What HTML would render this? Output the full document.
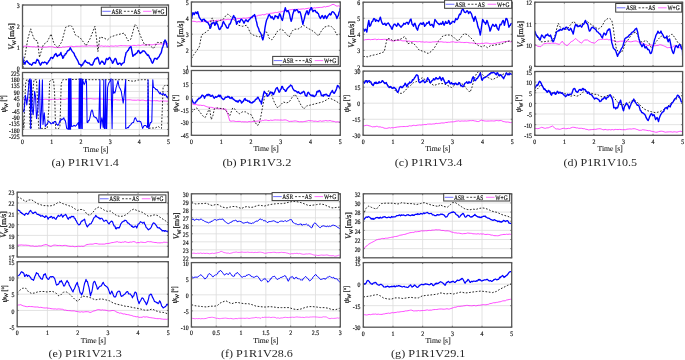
<!DOCTYPE html>
<html><head><meta charset="utf-8"><title>Figure</title>
<style>html,body{margin:0;padding:0;background:#fff;width:685px;height:360px;overflow:hidden}svg{display:block;will-change:transform;text-rendering:geometricPrecision}text{fill:#111;stroke:#111;stroke-width:0.2px}text.xl{stroke-width:0.06px}</style>
</head><body>
<svg width="685" height="360" viewBox="0 0 685 360" font-family='"Liberation Serif", serif' fill="#262626"><defs><clipPath id="cat"><rect x="22.50" y="5.00" width="146.00" height="63.30"/></clipPath><clipPath id="cab"><rect x="22.50" y="72.50" width="146.00" height="63.30"/></clipPath><clipPath id="cbt"><rect x="191.40" y="2.00" width="148.90" height="64.40"/></clipPath><clipPath id="cbb"><rect x="191.40" y="70.50" width="148.90" height="64.80"/></clipPath><clipPath id="cct"><rect x="363.10" y="2.20" width="149.10" height="64.20"/></clipPath><clipPath id="ccb"><rect x="363.10" y="71.10" width="149.10" height="64.20"/></clipPath><clipPath id="cdt"><rect x="534.80" y="2.20" width="147.80" height="64.20"/></clipPath><clipPath id="cdb"><rect x="534.80" y="71.50" width="147.80" height="63.80"/></clipPath><clipPath id="cet"><rect x="17.20" y="192.20" width="151.10" height="64.80"/></clipPath><clipPath id="ceb"><rect x="17.20" y="261.70" width="151.10" height="65.00"/></clipPath><clipPath id="cft"><rect x="191.40" y="193.80" width="148.90" height="64.00"/></clipPath><clipPath id="cfb"><rect x="191.40" y="262.60" width="148.90" height="64.40"/></clipPath><clipPath id="cgt"><rect x="363.30" y="193.80" width="148.40" height="64.00"/></clipPath><clipPath id="cgb"><rect x="363.30" y="262.60" width="148.40" height="64.60"/></clipPath></defs>
<rect x="22.50" y="5.00" width="146.00" height="63.30" fill="#fff"/>
<path d="M51.70,5.00 V68.30 M80.90,5.00 V68.30 M110.10,5.00 V68.30 M139.30,5.00 V68.30 M22.50,47.20 H168.50 M22.50,26.10 H168.50" stroke="#dcdcdc" stroke-width="0.8" fill="none"/>
<text transform="translate(19.70,68.30) scale(0.860,1)" text-anchor="end" font-size="6.80" dy="0.46em">0</text>
<text transform="translate(19.70,47.20) scale(0.860,1)" text-anchor="end" font-size="6.80" dy="0.46em">1</text>
<text transform="translate(19.70,26.10) scale(0.860,1)" text-anchor="end" font-size="6.80" dy="0.46em">2</text>
<text transform="translate(19.70,5.00) scale(0.860,1)" text-anchor="end" font-size="6.80" dy="0.46em">3</text>
<g clip-path="url(#cat)">
<path stroke-width="0.70" d="M22.5,46.1 L23.7,46.3 L25.0,46.1 L26.3,46.2 L27.7,46.3 L29.0,46.5 L30.3,46.6 L31.7,46.7 L33.0,46.9 L34.3,46.7 L35.6,47.1 L36.9,46.9 L38.2,46.9 L39.5,46.9 L40.8,47.2 L42.0,47.3 L43.3,47.3 L44.8,47.0 L46.3,47.1 L47.7,46.9 L49.2,46.7 L50.4,46.7 L51.6,46.8 L52.8,46.8 L54.0,47.3 L55.3,47.6 L56.5,47.6 L57.7,47.4 L58.9,47.7 L60.2,47.4 L61.5,47.5 L62.8,46.9 L64.1,47.1 L65.4,46.9 L66.7,46.7 L68.0,46.7 L69.3,46.4 L70.6,46.3 L71.9,46.2 L73.2,46.7 L74.5,46.6 L75.8,46.3 L77.1,46.3 L78.4,46.3 L79.7,46.3 L81.0,46.2 L82.3,46.0 L83.6,46.2 L84.9,46.0 L86.1,46.2 L87.4,46.1 L88.7,45.8 L90.0,45.9 L91.3,45.9 L92.5,46.0 L93.8,45.9 L95.0,46.1 L96.3,46.0 L97.5,45.9 L98.8,45.9 L100.1,46.2 L101.4,45.8 L102.7,46.1 L104.0,46.3 L105.4,46.0 L106.7,46.3 L108.0,46.0 L109.3,46.5 L110.6,46.0 L111.9,46.0 L113.2,46.2 L114.5,46.1 L115.8,45.8 L117.0,46.2 L118.3,45.9 L119.6,45.7 L120.9,45.6 L122.2,45.7 L123.5,45.7 L124.8,45.7 L126.1,45.8 L127.4,45.8 L128.7,45.8 L130.0,45.7 L131.3,45.9 L132.6,45.4 L133.9,45.4 L135.2,45.4 L136.5,45.7 L137.8,45.1 L139.1,45.2 L140.4,45.5 L141.7,45.1 L143.0,44.8 L144.3,45.2 L145.6,45.2 L146.9,44.9 L148.2,44.7 L149.5,44.5 L150.8,44.8 L152.1,44.9 L153.4,44.6 L154.7,44.3 L156.0,44.2 L157.3,44.1 L158.6,44.3 L159.9,43.9 L161.1,44.0 L162.5,44.0 L163.9,43.8 L165.2,44.0 L166.6,43.7 L168.0,43.6" stroke="#ff00ff" fill="none" stroke-linejoin="round"/>
<path d="M22.9,68.0 L24.9,56.4 L27.8,38.9 L30.7,28.8 L32.6,35.0 L34.6,39.9 L37.5,40.9 L39.5,57.4 L41.4,50.6 L43.3,44.7 L47.2,41.8 L51.1,34.0 L54.0,43.8 L57.9,47.7 L61.8,41.8 L65.7,27.2 L70.6,25.3 L72.5,27.2 L75.4,35.0 L80.3,37.9 L86.1,45.7 L90.0,38.9 L94.9,26.3 L96.6,38.9 L97.9,51.6 L99.9,37.0 L103.8,37.9 L107.6,39.9 L110.6,37.0 L116.4,35.0 L124.2,33.1 L128.1,40.9 L131.0,38.9 L134.9,24.3 L136.8,26.3 L141.7,38.9 L144.6,44.7 L149.5,45.1 L153.4,48.6 L157.3,42.4 L162.1,42.8 L165.0,40.9 L167.4,44.7" stroke="#111" stroke-width="0.9" fill="none" stroke-dasharray="1.7,1.6" stroke-linejoin="round"/>
<path d="M22.5,56.4 L23.5,62.3 L24.2,62.5 L24.9,64.2 L25.5,62.2 L26.2,61.3 L27.0,60.8 L27.8,62.3 L28.4,62.7 L29.1,63.6 L29.7,64.2 L30.4,64.1 L31.0,64.5 L31.7,65.2 L32.3,64.4 L33.0,62.9 L33.6,62.6 L34.3,62.5 L34.9,63.1 L35.6,63.2 L36.3,61.2 L37.1,59.3 L37.8,60.4 L38.5,60.3 L39.1,62.6 L39.8,63.9 L40.4,65.2 L41.1,64.4 L41.7,62.8 L42.4,62.3 L43.1,62.8 L43.8,62.7 L44.6,61.9 L45.3,62.3 L46.1,62.6 L46.8,64.2 L47.5,63.1 L48.2,62.3 L48.9,60.9 L49.6,60.3 L50.4,58.5 L51.1,57.4 L51.9,57.6 L52.7,58.4 L53.4,57.1 L54.0,56.4 L54.7,54.5 L55.3,54.5 L56.0,53.5 L56.8,55.9 L57.5,56.4 L58.2,55.1 L58.9,55.4 L59.6,54.9 L60.2,53.9 L60.9,52.5 L61.5,55.4 L62.2,55.9 L62.8,58.4 L63.5,57.6 L64.1,55.5 L64.7,55.4 L65.4,53.7 L66.0,53.8 L66.7,52.5 L67.3,51.2 L68.0,50.4 L68.6,50.6 L69.4,49.8 L70.2,47.7 L71.0,49.2 L71.8,50.6 L72.5,51.6 L73.3,52.5 L74.1,53.5 L74.8,55.8 L75.4,56.4 L76.2,58.1 L77.0,59.3 L77.7,60.6 L78.4,62.3 L79.1,64.3 L79.8,64.3 L80.6,64.6 L81.3,66.1 L81.9,64.8 L82.6,65.0 L83.2,63.2 L83.9,62.8 L84.5,61.3 L85.2,60.3 L85.9,61.6 L86.5,62.3 L87.3,62.4 L88.1,63.2 L88.7,63.0 L89.4,63.0 L90.0,64.2 L90.7,64.9 L91.3,64.8 L92.0,65.2 L92.8,64.5 L93.5,62.3 L94.2,61.2 L94.9,59.3 L95.6,58.7 L96.4,58.8 L97.1,57.5 L97.8,57.4 L98.5,59.5 L99.2,62.4 L99.9,64.2 L100.5,63.1 L101.2,61.9 L102.0,61.1 L102.8,62.3 L103.4,62.1 L104.1,64.2 L104.7,64.2 L105.4,62.5 L106.0,59.4 L106.7,58.4 L107.5,59.7 L108.2,59.3 L108.9,58.0 L109.6,57.4 L110.4,58.7 L111.1,60.3 L111.8,60.9 L112.5,63.2 L113.3,62.3 L114.1,60.3 L114.7,59.0 L115.4,58.4 L116.1,59.5 L116.8,62.3 L117.6,64.3 L118.3,64.2 L119.1,63.2 L119.9,63.2 L120.6,63.6 L121.3,65.2 L121.9,64.0 L122.6,63.2 L123.4,62.8 L124.2,62.3 L124.8,58.0 L125.5,55.5 L126.1,52.5 L126.9,52.0 L127.7,50.6 L128.4,50.2 L129.0,48.6 L129.7,47.5 L130.3,47.1 L131.0,46.7 L132.0,51.6 L132.9,56.4 L133.7,55.5 L134.5,54.5 L135.2,54.7 L135.9,53.5 L136.6,53.3 L137.4,52.1 L138.1,50.4 L138.8,50.6 L139.5,52.5 L140.1,53.5 L140.9,52.4 L141.7,52.5 L142.5,50.9 L143.2,51.0 L143.9,50.8 L144.6,51.6 L145.3,52.0 L146.0,53.5 L146.8,54.1 L147.5,55.4 L148.3,54.9 L149.1,56.4 L149.8,58.2 L150.4,58.4 L151.4,61.3 L152.4,63.2 L153.1,62.4 L153.8,60.3 L154.5,58.5 L155.3,58.4 L156.1,58.5 L156.9,59.3 L157.5,58.5 L158.2,57.4 L159.2,56.4 L160.0,54.5 L160.8,53.5 L161.4,52.1 L162.1,48.6 L162.8,46.9 L163.5,44.7 L164.3,41.8 L165.0,39.9 L166.2,41.8 L167.4,47.7" stroke="#0000ff" stroke-width="1.40" fill="none" stroke-linejoin="round"/>
</g>
<path d="M22.50,68.30 v-1.40 M22.50,5.00 v1.40 M51.70,68.30 v-1.40 M51.70,5.00 v1.40 M80.90,68.30 v-1.40 M80.90,5.00 v1.40 M110.10,68.30 v-1.40 M110.10,5.00 v1.40 M139.30,68.30 v-1.40 M139.30,5.00 v1.40 M168.50,68.30 v-1.40 M168.50,5.00 v1.40 M22.50,68.30 h1.40 M168.50,68.30 h-1.40 M22.50,47.20 h1.40 M168.50,47.20 h-1.40 M22.50,26.10 h1.40 M168.50,26.10 h-1.40 M22.50,5.00 h1.40 M168.50,5.00 h-1.40" stroke="#262626" stroke-width="0.6" fill="none"/>
<rect x="22.50" y="5.00" width="146.00" height="63.30" fill="none" stroke="#555" stroke-width="1.3"/>
<rect x="101.30" y="7.20" width="65.20" height="8.20" fill="#fff" stroke="#3a3a3a" stroke-width="1.0"/>
<line x1="102.30" y1="11.30" x2="110.80" y2="11.30" stroke="#3030ff" stroke-width="0.70"/>
<text transform="translate(111.40,11.30) scale(0.800,1)" font-size="6.90" dy="0.36em">ASR</text>
<line x1="123.90" y1="11.30" x2="133.20" y2="11.30" stroke="#111" stroke-width="0.80" stroke-dasharray="2.0,1.55"/>
<text transform="translate(133.50,11.30) scale(0.800,1)" font-size="6.90" dy="0.36em">AS</text>
<line x1="143.10" y1="11.30" x2="151.50" y2="11.30" stroke="#ff30ff" stroke-width="0.70"/>
<text transform="translate(152.30,11.30) scale(0.800,1)" font-size="6.90" dy="0.36em">W+G</text>
<rect x="22.50" y="72.50" width="146.00" height="63.30" fill="#fff"/>
<path d="M51.70,72.50 V135.80 M80.90,72.50 V135.80 M110.10,72.50 V135.80 M139.30,72.50 V135.80 M22.50,129.47 H168.50 M22.50,123.14 H168.50 M22.50,116.81 H168.50 M22.50,110.48 H168.50 M22.50,104.15 H168.50 M22.50,97.82 H168.50 M22.50,91.49 H168.50 M22.50,85.16 H168.50 M22.50,78.83 H168.50" stroke="#dcdcdc" stroke-width="0.8" fill="none"/>
<text transform="translate(19.70,135.80) scale(0.860,1)" text-anchor="end" font-size="6.80" dy="0.46em">-225</text>
<text transform="translate(19.70,129.47) scale(0.860,1)" text-anchor="end" font-size="6.80" dy="0.46em">-180</text>
<text transform="translate(19.70,123.14) scale(0.860,1)" text-anchor="end" font-size="6.80" dy="0.46em">-135</text>
<text transform="translate(19.70,116.81) scale(0.860,1)" text-anchor="end" font-size="6.80" dy="0.46em">-90</text>
<text transform="translate(19.70,110.48) scale(0.860,1)" text-anchor="end" font-size="6.80" dy="0.46em">-45</text>
<text transform="translate(19.70,104.15) scale(0.860,1)" text-anchor="end" font-size="6.80" dy="0.46em">0</text>
<text transform="translate(19.70,97.82) scale(0.860,1)" text-anchor="end" font-size="6.80" dy="0.46em">45</text>
<text transform="translate(19.70,91.49) scale(0.860,1)" text-anchor="end" font-size="6.80" dy="0.46em">90</text>
<text transform="translate(19.70,85.16) scale(0.860,1)" text-anchor="end" font-size="6.80" dy="0.46em">135</text>
<text transform="translate(19.70,78.83) scale(0.860,1)" text-anchor="end" font-size="6.80" dy="0.46em">180</text>
<text transform="translate(19.70,72.50) scale(0.860,1)" text-anchor="end" font-size="6.80" dy="0.46em">225</text>
<text transform="translate(22.50,144.10) scale(0.860,1)" text-anchor="middle" font-size="6.80">0</text>
<text transform="translate(51.70,144.10) scale(0.860,1)" text-anchor="middle" font-size="6.80">1</text>
<text transform="translate(80.90,144.10) scale(0.860,1)" text-anchor="middle" font-size="6.80">2</text>
<text transform="translate(110.10,144.10) scale(0.860,1)" text-anchor="middle" font-size="6.80">3</text>
<text transform="translate(139.30,144.10) scale(0.860,1)" text-anchor="middle" font-size="6.80">4</text>
<text transform="translate(168.50,144.10) scale(0.860,1)" text-anchor="middle" font-size="6.80">5</text>
<g clip-path="url(#cab)">
<path stroke-width="0.70" d="M22.5,99.2 L23.6,99.3 L24.8,99.3 L26.0,99.1 L27.2,99.0 L28.4,99.3 L29.7,99.5 L30.9,99.1 L32.1,99.4 L33.3,98.9 L34.6,99.2 L35.8,99.0 L37.0,99.2 L38.2,99.2 L39.5,99.2 L40.8,99.4 L42.0,99.3 L43.3,99.5 L44.6,99.3 L45.9,99.2 L47.2,99.4 L48.5,99.6 L49.8,99.7 L51.1,99.6 L52.4,99.3 L53.7,99.3 L55.0,99.3 L56.3,99.4 L57.6,99.6 L58.9,99.2 L60.2,99.0 L61.5,99.5 L62.8,99.2 L64.1,99.4 L65.4,99.3 L66.7,98.8 L68.0,98.9 L69.3,98.8 L70.6,99.2 L71.9,98.7 L73.2,98.7 L74.5,98.7 L75.8,99.0 L77.1,98.6 L78.4,98.8 L79.6,99.1 L80.8,98.7 L82.0,98.9 L83.2,98.7 L84.4,98.7 L85.6,99.1 L86.8,99.2 L88.0,98.7 L89.2,98.8 L90.4,98.6 L91.6,98.7 L92.8,98.9 L94.0,99.0 L95.2,99.0 L96.4,98.9 L97.6,98.8 L98.8,99.0 L100.0,99.1 L101.2,99.0 L102.4,99.1 L103.6,99.5 L104.8,99.3 L106.0,99.1 L107.2,99.7 L108.4,99.7 L109.6,99.5 L110.8,99.9 L112.0,99.4 L113.3,100.0 L114.5,99.8 L115.7,99.6 L116.9,100.0 L118.1,99.9 L119.3,100.1 L120.5,99.8 L121.8,100.0 L123.0,100.2 L124.2,99.7 L125.4,99.8 L126.6,100.0 L127.8,99.8 L129.0,99.8 L130.3,99.8 L131.5,100.0 L132.7,100.2 L133.9,100.2 L135.1,100.2 L136.3,100.3 L137.6,100.0 L138.8,100.1 L140.0,100.4 L141.2,100.2 L142.4,100.1 L143.6,100.2 L144.9,100.6 L146.1,100.8 L147.3,100.6 L148.5,100.3 L149.7,100.4 L150.9,100.8 L152.1,100.9 L153.4,100.7 L154.6,100.6 L155.8,100.8 L157.0,100.6 L158.2,100.9 L159.4,101.1 L160.7,100.9 L161.9,101.1 L163.1,100.8 L164.3,101.1 L165.5,101.0 L166.7,101.2 L168.0,101.1" stroke="#ff00ff" fill="none" stroke-linejoin="round"/>
<path d="M22.7,116.7 L23.9,128.4 L24.9,97.2 L25.8,81.7 L26.8,79.7 L28.2,79.7 L29.1,93.3 L30.1,128.4 L31.3,128.4 L32.6,93.3 L34.0,79.7 L35.2,79.7 L36.5,79.7 L37.5,101.1 L38.7,128.4 L41.4,128.4 L43.3,128.4 L44.9,128.4 L47.2,128.4 L48.8,108.9 L49.6,81.7 L51.1,79.7 L53.5,79.7 L54.6,93.3 L55.6,128.4 L58.9,128.4 L59.9,126.4 L60.5,108.9 L61.2,83.6 L62.8,79.7 L67.7,79.7 L78.4,79.3 L90.0,79.7 L98.8,79.7 L110.6,79.7 L126.1,79.7 L129.0,80.7 L133.9,81.3 L137.8,80.1 L141.7,79.7 L147.9,79.7 L148.5,128.4 L151.4,128.0 L155.3,128.0 L158.2,126.4 L160.2,128.0 L161.5,128.4 L162.3,108.9 L163.1,87.5 L165.0,85.2 L168.0,85.6" stroke="#111" stroke-width="0.9" fill="none" stroke-dasharray="1.7,1.6" stroke-linejoin="round"/>
<path d="M22.5,108.9 L23.1,110.6 L23.9,111.8 L24.7,102.6 L25.4,95.3 L26.1,99.5 L26.8,105.0 L27.5,98.6 L28.2,91.4 L29.3,79.7 L30.1,78.8 L30.7,128.4 L31.3,79.7 L32.1,108.9 L33.2,114.7 L33.9,103.8 L34.6,91.4 L35.6,97.2 L36.5,118.6 L37.2,113.6 L37.9,108.9 L38.7,94.6 L39.5,79.7 L40.4,128.4 L41.4,110.9 L42.4,79.7 L43.0,124.5 L43.6,119.1 L44.3,112.8 L45.3,126.4 L46.0,125.5 L46.8,124.4 L47.5,123.5 L48.2,121.6 L48.9,121.3 L49.5,122.3 L50.2,122.5 L50.8,123.8 L51.5,123.8 L52.1,123.5 L52.8,122.3 L53.6,123.4 L54.3,121.5 L55.0,121.6 L55.7,121.7 L56.5,124.4 L57.2,124.5 L57.9,125.4 L58.6,124.7 L59.2,122.8 L59.9,120.6 L60.5,121.1 L61.2,119.0 L61.8,119.6 L62.5,119.3 L63.1,118.7 L63.8,117.7 L64.4,120.0 L65.1,120.1 L65.7,122.5 L66.7,128.4 L67.5,128.9 L68.2,129.3 L68.6,78.8 L69.0,129.3 L69.4,78.8 L69.8,129.3 L70.2,78.8 L70.6,129.3 L71.0,78.8 L71.4,126.4 L72.0,126.0 L72.6,126.4 L73.2,126.1 L73.9,125.3 L74.5,125.4 L75.1,126.2 L75.8,125.7 L76.4,125.4 L77.1,124.3 L77.7,123.7 L78.4,122.5 L78.9,128.4 L79.3,78.8 L79.9,128.4 L80.5,78.8 L81.1,128.4 L81.7,78.8 L82.3,128.4 L82.6,79.7 L83.4,82.3 L84.2,84.6 L85.0,83.1 L85.8,79.7 L86.5,81.7 L87.1,122.5 L87.8,122.6 L88.4,120.6 L89.1,120.6 L89.7,118.7 L90.4,115.3 L91.0,111.8 L92.0,109.9 L92.6,111.2 L93.3,114.7 L93.9,116.7 L94.7,116.8 L95.4,117.6 L96.1,117.6 L96.8,118.6 L97.5,120.5 L98.1,122.1 L98.8,122.5 L99.9,79.7 L100.4,128.4 L101.1,123.3 L101.8,117.7 L102.5,121.6 L103.2,127.4 L103.8,79.7 L104.3,128.4 L105.1,128.4 L105.7,79.7 L106.3,128.4 L106.7,128.4 L107.6,87.5 L108.3,84.6 L108.9,82.9 L109.6,81.7 L110.3,80.4 L111.0,78.8 L112.1,128.4 L112.9,79.7 L113.5,93.3 L114.1,91.7 L114.8,93.0 L115.4,91.4 L116.1,87.6 L116.8,85.6 L118.0,80.7 L118.6,84.4 L119.3,87.5 L120.0,88.3 L120.6,89.7 L121.3,91.4 L121.9,95.4 L122.6,99.1 L123.2,103.1 L123.9,97.8 L124.6,91.4 L125.7,79.7 L125.7,128.4 L126.4,128.2 L127.1,127.9 L127.7,127.5 L128.4,127.7 L129.0,126.4 L129.7,125.7 L130.3,125.2 L131.0,124.5 L131.6,123.3 L132.3,122.9 L132.9,122.5 L133.6,122.4 L134.2,119.9 L134.8,118.1 L135.5,117.7 L136.2,119.5 L137.0,121.0 L137.8,121.6 L138.5,121.2 L139.3,121.0 L140.0,121.8 L140.7,121.6 L141.4,123.7 L142.0,126.4 L142.7,128.4 L143.3,127.0 L144.0,125.9 L144.6,125.4 L145.3,125.4 L146.1,125.8 L146.8,127.2 L147.5,127.4 L148.1,79.7 L148.7,128.4 L149.6,125.3 L150.4,122.5 L151.1,122.4 L151.8,121.6 L152.8,79.7 L153.4,87.5 L154.0,87.2 L154.7,88.1 L155.3,88.5 L156.0,89.8 L156.8,89.4 L157.5,90.2 L158.2,91.4 L159.0,92.6 L159.7,93.7 L160.4,92.6 L161.1,94.3 L161.8,94.2 L162.4,94.7 L163.1,93.3 L163.8,94.0 L164.6,95.4 L165.3,94.3 L166.0,95.3 L166.7,97.1 L167.3,96.6 L168.0,98.2" stroke="#0000ff" stroke-width="1.05" fill="none" stroke-linejoin="round"/>
</g>
<path d="M22.50,135.80 v-1.40 M22.50,72.50 v1.40 M51.70,135.80 v-1.40 M51.70,72.50 v1.40 M80.90,135.80 v-1.40 M80.90,72.50 v1.40 M110.10,135.80 v-1.40 M110.10,72.50 v1.40 M139.30,135.80 v-1.40 M139.30,72.50 v1.40 M168.50,135.80 v-1.40 M168.50,72.50 v1.40 M22.50,135.80 h1.40 M168.50,135.80 h-1.40 M22.50,129.47 h1.40 M168.50,129.47 h-1.40 M22.50,123.14 h1.40 M168.50,123.14 h-1.40 M22.50,116.81 h1.40 M168.50,116.81 h-1.40 M22.50,110.48 h1.40 M168.50,110.48 h-1.40 M22.50,104.15 h1.40 M168.50,104.15 h-1.40 M22.50,97.82 h1.40 M168.50,97.82 h-1.40 M22.50,91.49 h1.40 M168.50,91.49 h-1.40 M22.50,85.16 h1.40 M168.50,85.16 h-1.40 M22.50,78.83 h1.40 M168.50,78.83 h-1.40 M22.50,72.50 h1.40 M168.50,72.50 h-1.40" stroke="#262626" stroke-width="0.6" fill="none"/>
<rect x="22.50" y="72.50" width="146.00" height="63.30" fill="none" stroke="#555" stroke-width="1.3"/>
<g transform="translate(11.80,36.50) rotate(-90)">
<text x="-13.30" y="2.13" font-size="8.36" font-style="italic">V</text>
<text x="-8.70" y="3.83" font-size="5.41">W</text>
<text x="-2.70" y="2.13" font-size="8.20" textLength="16.00" lengthAdjust="spacingAndGlyphs">[m/s]</text>
</g>
<g transform="translate(3.80,103.90) rotate(-90)">
<text x="-8.60" y="2.08" font-size="8.00" font-style="italic">ψ</text>
<text x="-4.00" y="3.78" font-size="5.28">W</text>
<text x="2.40" y="2.08" font-size="8.00" textLength="6.20" lengthAdjust="spacingAndGlyphs">[°]</text>
</g>
<text class="xl" x="83.20" y="151.70" font-size="7.60" textLength="16.0" lengthAdjust="spacingAndGlyphs">Time</text>
<text class="xl" x="100.70" y="151.70" font-size="8.4">[</text>
<text class="xl" x="102.90" y="151.70" font-size="7.60">s</text>
<text class="xl" x="105.70" y="151.70" font-size="8.4">]</text>
<text style="fill:#262626;stroke:none;text-rendering:optimizeLegibility" x="51.40" y="163.00" font-size="10.60" dy="0.33em" textLength="67.50" lengthAdjust="spacingAndGlyphs">(a) P1R1V1.4</text>
<rect x="191.40" y="2.00" width="148.90" height="64.40" fill="#fff"/>
<path d="M221.18,2.00 V66.40 M250.96,2.00 V66.40 M280.74,2.00 V66.40 M310.52,2.00 V66.40 M191.40,50.30 H340.30 M191.40,34.20 H340.30 M191.40,18.10 H340.30" stroke="#dcdcdc" stroke-width="0.8" fill="none"/>
<text transform="translate(188.60,66.40) scale(0.860,1)" text-anchor="end" font-size="6.80" dy="0.46em">1</text>
<text transform="translate(188.60,50.30) scale(0.860,1)" text-anchor="end" font-size="6.80" dy="0.46em">2</text>
<text transform="translate(188.60,34.20) scale(0.860,1)" text-anchor="end" font-size="6.80" dy="0.46em">3</text>
<text transform="translate(188.60,18.10) scale(0.860,1)" text-anchor="end" font-size="6.80" dy="0.46em">4</text>
<text transform="translate(188.60,2.00) scale(0.860,1)" text-anchor="end" font-size="6.80" dy="0.46em">5</text>
<g clip-path="url(#cbt)">
<path stroke-width="0.70" d="M191.5,21.4 L192.7,21.3 L194.0,21.3 L195.2,21.5 L196.5,21.9 L197.7,21.8 L198.9,21.6 L200.2,21.9 L201.4,21.6 L202.6,21.6 L203.8,21.7 L205.0,21.2 L206.2,21.7 L207.5,21.4 L208.7,21.4 L209.9,21.0 L211.1,20.8 L212.3,20.9 L213.5,21.0 L214.8,20.9 L216.0,20.3 L217.2,20.4 L218.4,20.2 L219.6,20.4 L220.8,19.9 L222.0,20.1 L223.3,19.9 L224.5,19.8 L225.7,19.7 L226.9,19.5 L228.1,19.1 L229.3,19.6 L230.6,19.4 L231.8,19.4 L233.0,19.2 L234.2,19.3 L235.4,19.0 L236.6,18.9 L237.9,18.5 L239.1,18.6 L240.3,18.4 L241.5,18.8 L242.7,18.2 L243.9,18.0 L245.1,18.4 L246.4,18.1 L247.7,18.0 L249.0,17.6 L250.3,17.2 L251.6,16.9 L252.9,16.8 L254.1,16.5 L255.6,16.4 L257.1,16.0 L258.5,15.3 L260.0,15.2 L261.3,15.0 L262.6,14.5 L263.9,14.9 L265.2,14.5 L266.5,13.9 L267.8,14.0 L269.1,14.0 L270.4,13.3 L271.7,13.2 L272.9,13.1 L274.2,12.8 L275.4,12.4 L276.6,12.5 L277.8,12.4 L279.0,11.9 L280.2,12.1 L281.5,11.7 L282.7,11.4 L283.9,10.9 L285.1,10.7 L286.3,10.4 L287.5,10.7 L288.8,10.1 L290.0,9.8 L291.2,9.7 L292.4,9.4 L293.6,9.6 L294.8,9.3 L296.0,9.4 L297.3,9.3 L298.5,9.1 L299.7,9.3 L300.9,9.1 L302.1,9.0 L303.3,8.8 L304.6,9.1 L305.8,8.6 L307.0,8.6 L308.2,8.2 L309.4,8.2 L310.6,8.2 L311.9,8.3 L313.1,8.3 L314.3,7.7 L315.5,8.0 L316.7,7.6 L317.9,7.7 L319.1,7.5 L320.4,7.4 L321.7,7.4 L323.0,7.1 L324.3,6.6 L325.6,7.0 L326.9,6.4 L328.1,6.4 L329.4,6.0 L330.6,5.4 L331.8,4.8 L333.0,4.3 L334.5,4.8 L335.9,5.8 L337.1,6.2 L338.4,5.8 L339.6,6.2 L340.3,6.2" stroke="#ff00ff" fill="none" stroke-linejoin="round"/>
<path d="M191.5,58.4 L193.8,54.5 L196.8,50.6 L199.3,46.7 L201.6,35.0 L204.5,33.1 L207.5,31.1 L209.4,29.2 L211.0,20.4 L212.3,17.9 L214.3,23.3 L216.2,22.4 L218.2,21.4 L220.1,20.4 L223.0,19.5 L225.9,15.6 L227.9,14.0 L229.8,15.6 L232.7,18.5 L235.7,21.4 L238.6,25.3 L242.5,26.3 L246.4,25.3 L248.3,28.2 L250.3,33.1 L253.2,35.0 L256.1,36.0 L259.0,37.0 L262.9,35.0 L265.8,31.1 L267.8,34.0 L268.8,37.9 L271.7,39.9 L274.6,36.0 L277.6,31.1 L280.5,29.2 L283.0,30.2 L286.3,34.0 L289.2,37.0 L292.2,31.1 L294.1,29.2 L298.0,29.2 L300.9,27.2 L303.8,25.3 L307.7,28.2 L311.6,30.2 L315.5,33.1 L318.4,36.0 L321.3,31.1 L324.3,27.2 L328.1,25.9 L331.1,26.3 L334.0,29.2 L336.9,35.0 L338.8,34.0" stroke="#111" stroke-width="0.9" fill="none" stroke-dasharray="1.7,1.6" stroke-linejoin="round"/>
<path d="M191.5,18.5 L192.2,15.6 L192.9,12.6 L193.5,13.3 L194.2,14.6 L195.4,12.1 L196.1,12.4 L196.8,13.6 L197.7,11.7 L198.5,14.7 L199.3,17.5 L200.0,18.4 L200.6,19.5 L201.3,19.8 L202.0,21.4 L202.8,19.5 L203.6,19.5 L204.2,19.2 L204.9,21.0 L205.5,20.4 L206.2,22.0 L206.8,22.1 L207.5,22.4 L208.1,22.9 L208.8,24.4 L209.4,25.3 L210.4,28.2 L211.1,26.4 L211.7,23.3 L212.5,23.5 L213.3,22.4 L214.1,22.9 L214.8,25.3 L215.5,24.4 L216.2,21.4 L216.9,23.5 L217.6,24.3 L218.4,27.0 L219.1,29.2 L219.9,29.5 L220.7,28.2 L221.4,26.3 L222.0,26.3 L222.7,23.1 L223.4,21.4 L224.2,23.2 L225.0,24.3 L225.7,25.4 L226.5,27.2 L227.2,28.0 L227.9,28.2 L228.6,26.7 L229.2,24.3 L230.0,24.1 L230.8,22.4 L231.6,19.8 L232.4,18.5 L233.0,16.9 L233.7,15.6 L234.4,17.5 L235.1,17.5 L235.9,20.8 L236.6,24.3 L237.4,21.8 L238.2,21.4 L238.9,21.0 L239.6,22.4 L240.2,20.9 L240.9,19.5 L241.7,19.3 L242.5,20.4 L243.3,21.7 L244.0,23.3 L244.7,21.8 L245.4,20.4 L246.0,19.8 L246.7,20.3 L247.3,21.4 L248.0,21.7 L248.6,20.4 L249.3,19.5 L249.9,19.0 L250.6,18.0 L251.2,17.5 L251.9,17.6 L252.5,16.4 L253.2,15.6 L253.9,15.9 L254.5,14.6 L255.3,16.6 L256.1,20.4 L256.7,22.4 L257.4,26.0 L258.0,27.2 L258.7,28.7 L259.3,31.3 L260.0,32.1 L260.8,33.5 L261.5,35.0 L262.2,38.3 L262.9,39.9 L263.6,36.9 L264.3,33.1 L265.0,27.6 L265.8,23.3 L266.6,20.0 L267.4,18.5 L267.8,17.5 L268.6,15.3 L269.4,14.6 L270.1,15.8 L270.8,17.5 L271.4,17.8 L272.1,16.5 L272.9,18.1 L273.7,19.5 L274.5,17.6 L275.2,15.6 L275.9,16.7 L276.6,16.5 L277.3,16.5 L278.0,18.5 L278.7,16.7 L279.5,13.6 L280.3,14.8 L281.1,17.5 L281.7,19.4 L282.4,20.4 L283.1,17.4 L283.8,13.6 L284.6,10.4 L285.3,7.8 L286.1,10.6 L286.9,11.7 L287.6,10.8 L288.3,10.7 L288.9,12.6 L289.6,14.6 L290.4,18.6 L291.2,21.4 L292.0,18.8 L292.7,14.6 L293.4,12.6 L294.1,9.7 L294.8,10.8 L295.5,10.7 L296.2,9.6 L297.0,9.7 L297.8,10.9 L298.6,12.6 L299.3,11.8 L299.9,11.7 L300.6,13.6 L301.3,16.5 L302.1,20.7 L302.9,24.3 L303.6,21.1 L304.4,18.5 L305.1,15.1 L305.8,13.6 L306.5,11.4 L307.1,10.7 L308.3,14.6 L309.0,13.0 L309.7,9.7 L310.3,10.0 L311.0,7.8 L311.6,7.8 L312.3,10.3 L313.0,11.7 L313.8,10.5 L314.5,10.7 L315.2,10.4 L315.8,11.8 L316.5,12.6 L317.1,12.2 L317.8,13.4 L318.4,13.6 L319.1,16.1 L319.7,17.1 L320.4,18.5 L321.0,17.5 L321.7,16.1 L322.3,15.6 L323.1,17.3 L323.9,18.5 L324.5,16.7 L325.2,15.6 L325.9,16.9 L326.6,18.5 L327.4,16.9 L328.1,15.6 L328.9,14.6 L329.7,13.6 L330.4,15.0 L331.1,14.6 L331.7,12.2 L332.4,11.7 L333.2,12.0 L334.0,12.6 L334.8,13.9 L335.5,14.6 L336.2,16.2 L336.9,18.5 L337.6,16.5 L338.3,15.6 L339.0,12.6 L339.8,10.7 L340.3,7.8" stroke="#0000ff" stroke-width="1.40" fill="none" stroke-linejoin="round"/>
</g>
<path d="M191.40,66.40 v-1.40 M191.40,2.00 v1.40 M221.18,66.40 v-1.40 M221.18,2.00 v1.40 M250.96,66.40 v-1.40 M250.96,2.00 v1.40 M280.74,66.40 v-1.40 M280.74,2.00 v1.40 M310.52,66.40 v-1.40 M310.52,2.00 v1.40 M340.30,66.40 v-1.40 M340.30,2.00 v1.40 M191.40,66.40 h1.40 M340.30,66.40 h-1.40 M191.40,50.30 h1.40 M340.30,50.30 h-1.40 M191.40,34.20 h1.40 M340.30,34.20 h-1.40 M191.40,18.10 h1.40 M340.30,18.10 h-1.40 M191.40,2.00 h1.40 M340.30,2.00 h-1.40" stroke="#262626" stroke-width="0.6" fill="none"/>
<rect x="191.40" y="2.00" width="148.90" height="64.40" fill="none" stroke="#555" stroke-width="1.3"/>
<rect x="272.70" y="56.40" width="65.60" height="8.40" fill="#fff" stroke="#3a3a3a" stroke-width="1.0"/>
<line x1="273.71" y1="60.60" x2="282.26" y2="60.60" stroke="#3030ff" stroke-width="0.70"/>
<text transform="translate(282.86,60.60) scale(0.800,1)" font-size="6.90" dy="0.36em">ASR</text>
<line x1="295.44" y1="60.60" x2="304.80" y2="60.60" stroke="#111" stroke-width="0.80" stroke-dasharray="2.0,1.55"/>
<text transform="translate(305.10,60.60) scale(0.800,1)" font-size="6.90" dy="0.36em">AS</text>
<line x1="314.76" y1="60.60" x2="323.21" y2="60.60" stroke="#ff30ff" stroke-width="0.70"/>
<text transform="translate(324.01,60.60) scale(0.800,1)" font-size="6.90" dy="0.36em">W+G</text>
<rect x="191.40" y="70.50" width="148.90" height="64.80" fill="#fff"/>
<path d="M221.18,70.50 V135.30 M250.96,70.50 V135.30 M280.74,70.50 V135.30 M310.52,70.50 V135.30 M191.40,122.34 H340.30 M191.40,109.38 H340.30 M191.40,96.42 H340.30 M191.40,83.46 H340.30" stroke="#dcdcdc" stroke-width="0.8" fill="none"/>
<text transform="translate(188.60,135.30) scale(0.860,1)" text-anchor="end" font-size="6.80" dy="0.46em">-45</text>
<text transform="translate(188.60,122.34) scale(0.860,1)" text-anchor="end" font-size="6.80" dy="0.46em">-30</text>
<text transform="translate(188.60,109.38) scale(0.860,1)" text-anchor="end" font-size="6.80" dy="0.46em">-15</text>
<text transform="translate(188.60,96.42) scale(0.860,1)" text-anchor="end" font-size="6.80" dy="0.46em">0</text>
<text transform="translate(188.60,83.46) scale(0.860,1)" text-anchor="end" font-size="6.80" dy="0.46em">15</text>
<text transform="translate(188.60,70.50) scale(0.860,1)" text-anchor="end" font-size="6.80" dy="0.46em">30</text>
<text transform="translate(191.40,143.60) scale(0.860,1)" text-anchor="middle" font-size="6.80">0</text>
<text transform="translate(221.18,143.60) scale(0.860,1)" text-anchor="middle" font-size="6.80">1</text>
<text transform="translate(250.96,143.60) scale(0.860,1)" text-anchor="middle" font-size="6.80">2</text>
<text transform="translate(280.74,143.60) scale(0.860,1)" text-anchor="middle" font-size="6.80">3</text>
<text transform="translate(310.52,143.60) scale(0.860,1)" text-anchor="middle" font-size="6.80">4</text>
<text transform="translate(340.30,143.60) scale(0.860,1)" text-anchor="middle" font-size="6.80">5</text>
<g clip-path="url(#cbb)">
<path stroke-width="0.70" d="M191.5,104.0 L192.7,103.9 L194.0,104.6 L195.2,104.6 L196.5,104.6 L197.7,105.0 L199.2,105.2 L200.6,105.2 L202.1,105.5 L203.6,105.4 L204.9,105.9 L206.2,106.5 L207.5,106.9 L208.9,107.3 L210.4,107.3 L211.8,107.4 L213.3,107.9 L214.6,108.3 L215.9,108.0 L217.2,108.4 L218.5,108.8 L219.8,108.6 L221.1,108.9 L222.3,108.8 L223.5,109.0 L224.7,109.0 L225.9,109.2 L227.9,114.7 L229.8,120.9 L231.2,121.2 L232.6,121.0 L233.9,121.0 L235.3,121.4 L236.6,121.5 L237.9,121.4 L239.1,121.4 L240.3,121.4 L241.5,121.9 L242.7,121.7 L243.9,121.9 L245.1,121.8 L246.4,121.9 L247.7,122.0 L249.0,121.5 L250.3,121.8 L251.6,121.8 L252.9,121.4 L254.1,121.5 L255.6,121.3 L257.1,121.1 L258.5,121.0 L260.0,120.9 L261.2,121.0 L262.4,120.4 L263.6,120.5 L264.8,120.1 L266.3,120.1 L267.8,120.5 L269.2,120.6 L270.7,120.1 L272.2,120.4 L273.7,120.1 L275.1,119.9 L276.6,120.0 L278.1,120.0 L279.5,120.1 L281.0,120.0 L282.4,120.2 L283.9,120.0 L285.3,119.9 L286.6,120.2 L287.9,120.8 L289.2,121.5 L290.7,121.3 L292.2,121.3 L293.6,121.1 L295.1,120.9 L296.5,121.1 L298.0,121.5 L299.5,121.8 L300.9,121.7 L302.2,121.8 L303.5,121.6 L304.8,121.4 L306.1,121.2 L307.4,120.9 L308.7,120.5 L310.0,120.8 L311.3,120.8 L312.6,120.9 L313.9,121.3 L315.2,121.1 L316.5,121.3 L317.8,121.5 L319.1,121.1 L320.4,120.8 L321.7,121.3 L323.0,121.0 L324.3,120.9 L325.7,120.5 L327.2,120.9 L328.6,120.8 L330.1,120.5 L331.6,121.1 L333.0,121.3 L334.5,121.5 L335.9,122.1 L337.1,121.8 L338.4,121.9 L339.6,121.9 L340.3,121.7" stroke="#ff00ff" fill="none" stroke-linejoin="round"/>
<path d="M191.5,112.7 L193.8,109.8 L196.8,107.9 L199.7,111.8 L202.6,115.7 L205.1,117.6 L207.5,112.7 L209.4,107.9 L211.3,119.6 L212.9,115.7 L214.3,108.9 L217.2,107.9 L221.1,108.5 L224.0,108.9 L226.9,111.8 L229.8,115.7 L232.7,107.9 L234.7,108.9 L237.6,112.7 L239.6,113.7 L242.5,111.8 L245.4,111.8 L248.3,113.7 L251.2,114.7 L254.1,120.5 L257.1,125.4 L259.0,124.4 L261.0,115.7 L262.9,105.0 L264.8,96.2 L266.8,94.3 L268.8,90.4 L271.7,95.2 L274.6,103.0 L277.6,107.9 L280.5,105.0 L283.4,102.0 L286.3,103.0 L289.2,102.0 L292.2,97.2 L295.1,94.3 L298.0,99.1 L300.9,105.0 L303.8,108.9 L306.7,105.9 L310.6,105.0 L314.5,104.0 L318.4,103.0 L322.3,102.0 L326.2,100.1 L329.1,98.2 L332.0,99.1 L335.9,101.1 L340.3,104.0" stroke="#111" stroke-width="0.9" fill="none" stroke-dasharray="1.7,1.6" stroke-linejoin="round"/>
<path d="M191.5,98.2 L192.2,100.4 L192.9,102.0 L193.5,102.8 L194.2,103.1 L194.8,103.0 L195.5,103.0 L196.1,101.1 L196.8,101.1 L197.4,99.9 L198.1,99.4 L198.7,98.2 L199.3,98.5 L200.0,98.2 L200.6,97.2 L201.3,97.0 L201.9,95.2 L202.6,95.2 L203.2,95.7 L203.9,96.4 L204.5,98.2 L205.2,96.4 L205.8,95.8 L206.5,95.2 L207.1,94.4 L207.8,95.4 L208.4,94.3 L209.1,95.1 L209.7,94.6 L210.4,96.2 L211.0,96.4 L211.7,95.7 L212.3,95.2 L213.0,96.2 L213.6,97.4 L214.3,98.2 L214.9,97.4 L215.6,96.6 L216.2,97.2 L216.9,97.1 L217.5,96.3 L218.2,96.2 L218.8,95.1 L219.5,96.6 L220.1,95.2 L220.7,95.8 L221.4,97.8 L222.0,98.2 L222.7,98.8 L223.3,99.6 L224.0,99.1 L224.6,98.6 L225.3,97.2 L225.9,97.2 L226.6,97.2 L227.2,97.1 L227.9,96.2 L228.5,97.1 L229.2,96.8 L229.8,98.2 L230.5,98.0 L231.1,98.5 L231.8,97.2 L232.4,97.8 L233.1,99.2 L233.7,99.1 L234.4,100.1 L235.0,100.3 L235.7,101.1 L236.3,101.5 L237.0,100.8 L237.6,102.0 L238.3,102.0 L238.9,100.5 L239.6,100.1 L240.2,100.7 L240.9,101.1 L241.5,103.0 L242.2,102.4 L242.8,101.6 L243.4,101.1 L244.4,99.1 L245.1,98.5 L245.7,100.2 L246.4,100.1 L247.0,100.2 L247.7,101.2 L248.3,101.1 L249.0,100.8 L249.6,102.3 L250.3,102.0 L250.9,102.9 L251.6,102.8 L252.2,103.0 L252.9,101.8 L253.5,102.1 L254.1,101.1 L254.8,101.1 L255.4,99.6 L256.1,99.1 L256.7,99.1 L257.4,97.6 L258.0,97.2 L258.7,98.5 L259.3,99.5 L260.0,101.1 L260.8,101.5 L261.5,104.0 L262.2,99.7 L262.9,97.2 L263.6,93.7 L264.3,91.3 L265.0,92.6 L265.8,93.3 L266.5,93.7 L267.1,96.1 L267.8,96.2 L268.4,95.1 L269.1,94.8 L269.8,93.3 L270.4,92.0 L271.1,92.9 L271.7,92.3 L272.4,92.5 L273.0,94.5 L273.7,94.3 L274.3,92.6 L275.0,91.4 L275.6,89.4 L276.4,88.2 L277.2,87.5 L277.8,89.0 L278.5,90.7 L279.1,92.3 L279.8,91.6 L280.5,89.4 L281.1,89.1 L281.8,86.4 L282.4,86.5 L283.1,88.3 L283.8,89.4 L284.6,89.6 L285.3,91.3 L286.0,91.3 L286.6,90.0 L287.3,88.4 L287.9,87.8 L288.6,87.4 L289.2,86.5 L289.9,86.2 L290.5,85.0 L291.2,85.5 L292.0,86.1 L292.7,88.4 L293.4,89.4 L294.1,90.4 L294.7,90.9 L295.4,90.8 L296.0,91.3 L296.7,91.4 L297.3,92.8 L298.0,92.3 L298.6,91.7 L299.3,93.3 L299.9,93.3 L300.6,93.8 L301.2,93.3 L301.9,92.3 L302.5,92.7 L303.2,91.7 L303.8,91.3 L304.5,92.4 L305.2,95.2 L306.0,95.9 L306.7,96.2 L307.5,93.3 L308.3,92.3 L309.0,93.0 L309.7,94.3 L310.3,94.8 L311.0,95.6 L311.6,95.2 L312.3,96.0 L312.9,95.0 L313.6,96.2 L314.2,96.6 L314.9,96.1 L315.5,95.2 L316.2,94.8 L316.8,91.8 L317.4,91.3 L318.1,91.9 L318.7,91.0 L319.4,90.4 L320.0,91.4 L320.7,92.9 L321.3,95.2 L322.0,95.8 L322.6,95.2 L323.3,96.2 L323.9,94.6 L324.6,95.1 L325.2,94.3 L325.9,94.8 L326.5,94.2 L327.2,95.2 L327.8,95.9 L328.5,95.6 L329.1,96.2 L329.8,95.2 L330.4,93.5 L331.1,92.3 L331.7,91.9 L332.4,90.4 L333.1,92.3 L333.7,93.0 L334.4,93.3 L335.2,91.6 L335.9,90.4 L336.7,88.3 L337.5,85.5 L338.2,85.9 L338.8,86.5 L339.5,88.0 L340.1,88.1 L340.3,89.4" stroke="#0000ff" stroke-width="1.40" fill="none" stroke-linejoin="round"/>
</g>
<path d="M191.40,135.30 v-1.40 M191.40,70.50 v1.40 M221.18,135.30 v-1.40 M221.18,70.50 v1.40 M250.96,135.30 v-1.40 M250.96,70.50 v1.40 M280.74,135.30 v-1.40 M280.74,70.50 v1.40 M310.52,135.30 v-1.40 M310.52,70.50 v1.40 M340.30,135.30 v-1.40 M340.30,70.50 v1.40 M191.40,135.30 h1.40 M340.30,135.30 h-1.40 M191.40,122.34 h1.40 M340.30,122.34 h-1.40 M191.40,109.38 h1.40 M340.30,109.38 h-1.40 M191.40,96.42 h1.40 M340.30,96.42 h-1.40 M191.40,83.46 h1.40 M340.30,83.46 h-1.40 M191.40,70.50 h1.40 M340.30,70.50 h-1.40" stroke="#262626" stroke-width="0.6" fill="none"/>
<rect x="191.40" y="70.50" width="148.90" height="64.80" fill="none" stroke="#555" stroke-width="1.3"/>
<g transform="translate(181.00,34.30) rotate(-90)">
<text x="-13.30" y="2.13" font-size="8.36" font-style="italic">V</text>
<text x="-8.70" y="3.83" font-size="5.41">W</text>
<text x="-2.70" y="2.13" font-size="8.20" textLength="16.00" lengthAdjust="spacingAndGlyphs">[m/s]</text>
</g>
<g transform="translate(175.50,103.30) rotate(-90)">
<text x="-8.60" y="2.08" font-size="8.00" font-style="italic">ψ</text>
<text x="-4.00" y="3.78" font-size="5.28">W</text>
<text x="2.40" y="2.08" font-size="8.00" textLength="6.20" lengthAdjust="spacingAndGlyphs">[°]</text>
</g>
<text class="xl" x="253.40" y="151.10" font-size="7.60" textLength="16.0" lengthAdjust="spacingAndGlyphs">Time</text>
<text class="xl" x="270.90" y="151.10" font-size="8.4">[</text>
<text class="xl" x="273.10" y="151.10" font-size="7.60">s</text>
<text class="xl" x="275.90" y="151.10" font-size="8.4">]</text>
<text style="fill:#262626;stroke:none;text-rendering:optimizeLegibility" x="222.40" y="163.00" font-size="10.60" dy="0.33em" textLength="68.90" lengthAdjust="spacingAndGlyphs">(b) P1R1V3.2</text>
<rect x="363.10" y="2.20" width="149.10" height="64.20" fill="#fff"/>
<path d="M392.92,2.20 V66.40 M422.74,2.20 V66.40 M452.56,2.20 V66.40 M482.38,2.20 V66.40 M363.10,50.35 H512.20 M363.10,34.30 H512.20 M363.10,18.25 H512.20" stroke="#dcdcdc" stroke-width="0.8" fill="none"/>
<text transform="translate(360.30,66.40) scale(0.860,1)" text-anchor="end" font-size="6.80" dy="0.46em">2</text>
<text transform="translate(360.30,50.35) scale(0.860,1)" text-anchor="end" font-size="6.80" dy="0.46em">3</text>
<text transform="translate(360.30,34.30) scale(0.860,1)" text-anchor="end" font-size="6.80" dy="0.46em">4</text>
<text transform="translate(360.30,18.25) scale(0.860,1)" text-anchor="end" font-size="6.80" dy="0.46em">5</text>
<text transform="translate(360.30,2.20) scale(0.860,1)" text-anchor="end" font-size="6.80" dy="0.46em">6</text>
<g clip-path="url(#cct)">
<path stroke-width="0.70" d="M363.1,39.9 L364.3,40.0 L365.6,39.6 L366.8,39.6 L368.0,39.4 L369.2,39.4 L370.5,39.7 L371.7,39.5 L373.0,39.5 L374.3,39.2 L375.6,39.2 L376.9,39.8 L378.2,39.2 L379.5,39.5 L380.8,39.5 L382.0,39.5 L383.3,39.4 L384.6,39.3 L385.9,39.4 L387.2,39.5 L388.7,39.8 L390.2,40.1 L391.6,40.8 L393.1,40.9 L394.5,41.0 L396.0,40.3 L397.5,40.3 L398.9,40.3 L400.2,40.1 L401.5,40.6 L402.8,40.9 L404.1,40.9 L405.4,40.8 L406.7,41.2 L408.0,41.2 L409.3,41.1 L410.6,41.5 L411.9,41.6 L413.2,41.5 L414.5,41.4 L415.8,41.5 L417.1,41.8 L418.4,41.7 L419.7,41.5 L421.0,42.0 L422.3,41.8 L423.6,42.0 L424.9,42.2 L426.1,41.9 L427.4,42.1 L428.7,42.2 L430.0,42.2 L431.3,42.2 L432.5,41.9 L433.7,41.9 L434.9,41.9 L436.1,41.7 L437.3,41.6 L438.6,42.0 L439.8,41.8 L441.8,41.8 L443.1,42.1 L444.4,42.2 L445.7,42.1 L447.0,42.4 L448.3,42.3 L449.6,42.4 L450.9,42.0 L452.2,41.9 L453.5,41.8 L454.8,42.2 L456.0,42.3 L457.3,42.3 L458.6,42.1 L459.9,42.1 L461.2,42.4 L462.5,42.4 L463.8,42.6 L465.1,42.5 L466.4,42.4 L467.7,42.5 L469.0,42.8 L470.3,43.0 L471.6,42.8 L472.9,43.1 L474.2,43.3 L475.5,43.4 L476.8,43.8 L478.1,43.5 L479.4,43.8 L480.7,43.5 L482.0,43.2 L483.3,43.5 L484.6,43.2 L485.9,43.0 L487.2,43.1 L488.5,43.3 L489.8,43.7 L491.1,43.8 L492.4,43.8 L493.7,43.3 L495.0,43.5 L496.3,43.1 L497.6,42.8 L498.9,42.8 L500.1,42.4 L501.4,42.0 L502.7,42.0 L504.0,41.6 L505.3,41.6 L506.6,41.5 L507.9,41.2 L509.2,41.2 L510.5,41.8 L511.8,41.8" stroke="#ff00ff" fill="none" stroke-linejoin="round"/>
<path d="M363.1,56.4 L367.8,56.8 L371.7,55.4 L376.5,54.5 L381.4,52.9 L384.3,51.6 L385.7,44.7 L387.2,38.5 L390.2,38.9 L393.1,40.9 L396.0,39.9 L398.9,39.9 L401.8,38.5 L404.4,36.6 L405.7,37.9 L407.7,43.8 L410.6,42.8 L413.5,43.2 L416.4,46.7 L419.3,50.2 L422.3,51.0 L425.2,52.1 L428.1,53.5 L431.0,51.6 L433.9,48.6 L436.3,44.7 L437.8,41.8 L439.8,39.9 L442.8,36.0 L446.6,35.0 L450.5,35.0 L453.5,37.0 L456.4,39.9 L458.3,40.9 L461.2,37.0 L464.2,33.5 L467.1,34.6 L470.0,37.0 L472.9,39.9 L475.8,43.8 L478.7,45.7 L481.7,46.7 L484.6,45.7 L487.5,47.7 L490.4,45.7 L494.3,45.1 L498.2,44.4 L502.1,43.8 L506.0,41.8 L509.9,40.9 L511.8,41.2" stroke="#111" stroke-width="0.9" fill="none" stroke-dasharray="1.7,1.6" stroke-linejoin="round"/>
<path d="M363.1,28.2 L364.3,31.1 L365.4,29.2 L366.1,29.7 L366.8,32.1 L367.8,25.3 L368.8,20.4 L369.7,26.3 L370.5,25.7 L371.3,23.3 L372.0,21.5 L372.6,21.4 L373.3,19.5 L374.0,18.5 L374.8,19.1 L375.6,21.4 L376.3,19.9 L377.1,20.4 L377.8,20.7 L378.5,21.4 L379.5,19.5 L380.4,17.1 L381.1,20.1 L381.8,22.4 L382.6,24.0 L383.3,24.3 L384.1,24.0 L384.9,23.3 L385.6,25.0 L386.3,25.3 L386.9,23.8 L387.6,23.3 L388.4,23.0 L389.2,24.3 L390.0,25.9 L390.7,26.3 L391.4,28.4 L392.1,29.2 L392.8,27.1 L393.5,25.3 L394.2,24.1 L395.0,24.3 L395.8,25.2 L396.6,26.3 L397.3,25.0 L397.9,23.3 L398.6,24.1 L399.3,25.3 L400.1,26.1 L400.9,27.2 L401.6,26.6 L402.4,25.3 L403.1,25.0 L403.8,23.3 L404.5,23.8 L405.1,24.3 L405.9,23.0 L406.7,22.4 L407.5,22.4 L408.2,24.3 L408.9,23.0 L409.6,21.4 L410.3,19.5 L411.0,19.1 L412.1,24.3 L412.8,24.9 L413.5,26.3 L414.2,23.9 L414.9,23.3 L415.6,25.2 L416.4,28.2 L417.6,30.2 L418.8,25.3 L419.5,24.9 L420.3,23.3 L421.1,23.3 L421.9,24.3 L422.5,24.2 L423.2,22.4 L423.9,23.6 L424.6,26.3 L425.4,25.4 L426.1,24.3 L426.9,22.8 L427.7,23.3 L428.4,22.8 L429.1,21.4 L429.7,24.4 L430.4,25.3 L431.2,24.9 L432.0,24.3 L432.8,25.9 L433.5,27.2 L434.2,23.4 L434.9,19.5 L435.6,20.4 L436.3,21.4 L437.0,22.4 L437.8,23.3 L438.5,23.7 L439.1,24.6 L439.8,24.3 L440.6,23.3 L441.4,24.3 L442.1,23.4 L442.8,21.4 L443.4,23.9 L444.1,25.3 L444.9,23.3 L445.7,21.4 L446.5,23.4 L447.2,23.3 L447.9,22.9 L448.6,20.4 L449.3,21.7 L450.0,24.3 L450.7,23.1 L451.5,23.3 L452.3,21.5 L453.1,21.4 L453.7,21.6 L454.4,22.4 L455.1,20.5 L455.8,18.5 L456.6,19.6 L457.3,19.5 L458.1,18.2 L458.9,15.6 L459.6,14.1 L460.3,14.6 L460.9,13.3 L461.6,10.7 L462.8,8.8 L463.5,9.9 L464.2,11.7 L464.8,12.4 L465.5,12.6 L466.3,11.7 L467.1,10.7 L467.9,11.6 L468.6,13.6 L469.3,12.2 L470.0,11.7 L470.7,12.7 L471.4,13.6 L472.5,17.5 L473.2,18.5 L473.9,21.4 L474.6,18.2 L475.2,16.5 L476.4,20.4 L477.1,22.5 L477.8,26.3 L478.5,28.3 L479.1,29.2 L480.3,35.0 L481.0,30.7 L481.7,25.3 L482.6,19.5 L483.4,20.6 L484.2,22.4 L484.9,22.4 L485.6,24.3 L486.2,23.0 L486.9,20.4 L487.7,22.2 L488.5,25.3 L489.3,27.4 L490.0,31.1 L490.7,29.7 L491.4,27.2 L492.1,25.7 L492.8,24.3 L493.5,25.2 L494.3,26.3 L495.1,26.0 L495.9,24.3 L496.5,25.7 L497.2,28.2 L497.9,29.2 L498.6,30.2 L499.4,26.8 L500.1,24.3 L500.9,24.8 L501.7,23.3 L502.4,21.4 L503.1,20.4 L503.7,21.8 L504.4,25.3 L505.2,21.6 L506.0,18.5 L506.8,18.6 L507.5,20.4 L508.2,23.6 L508.9,27.2 L509.6,25.6 L510.3,25.3 L511.0,23.7 L511.8,23.3" stroke="#0000ff" stroke-width="1.40" fill="none" stroke-linejoin="round"/>
</g>
<path d="M363.10,66.40 v-1.40 M363.10,2.20 v1.40 M392.92,66.40 v-1.40 M392.92,2.20 v1.40 M422.74,66.40 v-1.40 M422.74,2.20 v1.40 M452.56,66.40 v-1.40 M452.56,2.20 v1.40 M482.38,66.40 v-1.40 M482.38,2.20 v1.40 M512.20,66.40 v-1.40 M512.20,2.20 v1.40 M363.10,66.40 h1.40 M512.20,66.40 h-1.40 M363.10,50.35 h1.40 M512.20,50.35 h-1.40 M363.10,34.30 h1.40 M512.20,34.30 h-1.40 M363.10,18.25 h1.40 M512.20,18.25 h-1.40 M363.10,2.20 h1.40 M512.20,2.20 h-1.40" stroke="#262626" stroke-width="0.6" fill="none"/>
<rect x="363.10" y="2.20" width="149.10" height="64.20" fill="none" stroke="#555" stroke-width="1.3"/>
<rect x="444.60" y="0.20" width="67.10" height="8.10" fill="#fff" stroke="#3a3a3a" stroke-width="1.0"/>
<line x1="445.63" y1="4.25" x2="454.38" y2="4.25" stroke="#3030ff" stroke-width="0.70"/>
<text transform="translate(454.99,4.25) scale(0.800,1)" font-size="6.90" dy="0.36em">ASR</text>
<line x1="467.86" y1="4.25" x2="477.43" y2="4.25" stroke="#111" stroke-width="0.80" stroke-dasharray="2.0,1.55"/>
<text transform="translate(477.74,4.25) scale(0.800,1)" font-size="6.90" dy="0.36em">AS</text>
<line x1="487.62" y1="4.25" x2="496.26" y2="4.25" stroke="#ff30ff" stroke-width="0.70"/>
<text transform="translate(497.09,4.25) scale(0.800,1)" font-size="6.90" dy="0.36em">W+G</text>
<rect x="363.10" y="71.10" width="149.10" height="64.20" fill="#fff"/>
<path d="M392.92,71.10 V135.30 M422.74,71.10 V135.30 M452.56,71.10 V135.30 M482.38,71.10 V135.30 M363.10,119.25 H512.20 M363.10,103.20 H512.20 M363.10,87.15 H512.20" stroke="#dcdcdc" stroke-width="0.8" fill="none"/>
<text transform="translate(360.30,135.30) scale(0.860,1)" text-anchor="end" font-size="6.80" dy="0.46em">-30</text>
<text transform="translate(360.30,119.25) scale(0.860,1)" text-anchor="end" font-size="6.80" dy="0.46em">-15</text>
<text transform="translate(360.30,103.20) scale(0.860,1)" text-anchor="end" font-size="6.80" dy="0.46em">0</text>
<text transform="translate(360.30,87.15) scale(0.860,1)" text-anchor="end" font-size="6.80" dy="0.46em">15</text>
<text transform="translate(360.30,71.10) scale(0.860,1)" text-anchor="end" font-size="6.80" dy="0.46em">30</text>
<text transform="translate(363.10,143.60) scale(0.860,1)" text-anchor="middle" font-size="6.80">0</text>
<text transform="translate(392.92,143.60) scale(0.860,1)" text-anchor="middle" font-size="6.80">1</text>
<text transform="translate(422.74,143.60) scale(0.860,1)" text-anchor="middle" font-size="6.80">2</text>
<text transform="translate(452.56,143.60) scale(0.860,1)" text-anchor="middle" font-size="6.80">3</text>
<text transform="translate(482.38,143.60) scale(0.860,1)" text-anchor="middle" font-size="6.80">4</text>
<text transform="translate(512.20,143.60) scale(0.860,1)" text-anchor="middle" font-size="6.80">5</text>
<g clip-path="url(#ccb)">
<path stroke-width="0.70" d="M363.1,126.0 L364.7,125.7 L366.2,125.3 L367.8,125.4 L369.0,125.8 L370.2,126.0 L371.4,126.5 L372.6,126.9 L373.9,126.7 L375.1,126.8 L376.3,126.3 L377.5,126.4 L378.8,127.0 L380.1,126.8 L381.4,127.3 L382.7,127.4 L384.0,128.1 L385.3,128.3 L386.6,128.4 L387.9,128.1 L389.2,127.7 L390.5,128.0 L391.8,127.6 L393.1,127.9 L394.5,127.5 L396.0,127.3 L397.5,127.0 L398.9,126.9 L400.2,126.7 L401.5,126.6 L402.8,126.6 L404.1,126.5 L405.4,126.6 L406.7,126.4 L408.0,126.4 L409.3,125.8 L410.6,125.9 L411.9,125.9 L413.2,125.3 L414.5,125.4 L415.8,125.6 L417.1,125.2 L418.4,125.1 L419.7,124.9 L421.0,125.1 L422.3,124.8 L423.6,124.7 L424.9,124.5 L426.1,124.7 L427.4,124.1 L428.7,124.1 L430.0,124.0 L431.3,124.2 L432.5,124.0 L433.7,123.9 L434.9,123.9 L436.1,123.3 L437.3,123.6 L438.6,123.4 L439.8,123.3 L441.8,122.9 L443.1,123.0 L444.4,122.9 L445.7,122.4 L447.0,122.5 L448.3,122.1 L449.6,122.1 L450.9,121.9 L452.2,121.9 L453.5,121.8 L454.8,121.6 L456.0,121.1 L457.3,121.1 L458.6,120.8 L459.9,121.3 L461.2,121.0 L462.5,121.0 L463.8,121.1 L465.1,120.9 L466.4,121.1 L467.7,120.9 L469.0,120.8 L470.3,120.6 L471.6,120.7 L472.9,120.5 L474.4,120.9 L475.8,121.1 L477.3,121.5 L478.7,121.5 L480.2,120.7 L481.7,120.1 L482.9,120.6 L484.1,120.9 L485.3,121.0 L486.5,121.1 L488.0,121.0 L489.4,121.0 L490.9,120.9 L492.4,120.9 L493.7,121.0 L495.0,120.9 L496.3,120.5 L497.6,120.6 L498.9,120.8 L500.1,120.5 L501.6,120.7 L503.1,121.5 L504.5,121.7 L506.0,122.1 L507.4,122.0 L508.9,122.2 L510.4,122.6 L511.8,122.5" stroke="#ff00ff" fill="none" stroke-linejoin="round"/>
<path d="M363.1,81.6 L365.8,80.6 L368.8,81.6 L371.7,84.5 L374.6,83.6 L378.5,82.6 L382.4,81.6 L386.3,83.6 L389.2,86.5 L393.1,88.4 L396.0,91.3 L398.9,93.3 L401.8,93.3 L404.7,91.3 L407.7,87.5 L410.6,85.5 L413.5,82.6 L416.4,81.6 L419.3,79.7 L422.3,77.7 L425.2,79.7 L428.1,81.6 L431.0,83.6 L433.9,85.5 L436.8,84.5 L439.8,83.6 L443.7,83.6 L447.6,85.5 L451.5,87.5 L455.4,84.5 L459.3,82.6 L463.2,84.5 L467.1,89.4 L470.0,92.3 L471.9,87.5 L473.9,79.7 L476.8,72.9 L479.1,71.4 L481.7,73.8 L484.6,76.8 L488.5,77.7 L492.4,79.7 L496.3,77.7 L500.1,75.8 L504.0,73.8 L507.9,72.9 L511.8,72.9" stroke="#111" stroke-width="0.9" fill="none" stroke-dasharray="1.7,1.6" stroke-linejoin="round"/>
<path d="M363.1,81.6 L364.3,83.2 L365.1,82.0 L365.8,80.6 L366.6,80.8 L367.4,82.6 L368.1,80.9 L368.8,81.2 L369.4,80.8 L370.1,81.6 L370.9,82.0 L371.7,84.0 L372.5,84.9 L373.2,85.5 L373.9,84.0 L374.6,82.6 L375.3,83.2 L376.0,82.0 L376.7,83.5 L377.5,83.2 L378.3,83.1 L379.1,81.6 L379.7,82.7 L380.4,82.6 L381.1,82.3 L381.8,81.2 L382.6,80.7 L383.3,81.6 L384.1,82.8 L384.9,83.6 L385.6,83.1 L386.3,82.6 L386.9,84.0 L387.6,85.5 L388.4,86.6 L389.2,87.5 L390.0,87.2 L390.7,86.5 L391.4,87.4 L392.1,88.4 L392.8,88.4 L393.5,87.5 L394.2,87.4 L395.0,88.4 L395.8,88.9 L396.6,90.4 L397.3,92.1 L397.9,92.3 L398.6,90.7 L399.3,88.4 L400.1,86.8 L400.9,86.5 L401.6,87.6 L402.4,87.5 L403.1,86.5 L403.8,85.5 L404.5,85.1 L405.1,83.2 L405.9,84.3 L406.7,86.5 L407.5,85.6 L408.2,83.6 L408.9,83.8 L409.6,82.0 L410.3,82.7 L411.0,82.6 L411.8,81.8 L412.5,79.7 L413.3,80.0 L414.1,78.7 L414.8,77.4 L415.4,76.8 L416.1,75.3 L416.8,74.8 L418.0,75.8 L418.8,81.6 L419.5,82.5 L420.3,82.6 L421.1,81.8 L421.9,81.6 L422.5,80.4 L423.2,80.1 L423.9,81.2 L424.6,82.6 L425.4,82.3 L426.1,81.6 L426.9,79.8 L427.7,77.7 L428.4,79.5 L429.1,79.7 L429.7,82.1 L430.4,82.6 L431.2,81.9 L432.0,80.6 L432.8,80.3 L433.5,78.7 L434.2,79.7 L434.9,79.7 L435.6,78.0 L436.3,77.7 L437.0,79.0 L437.8,78.7 L438.5,78.8 L439.1,78.4 L439.8,76.8 L440.6,78.2 L441.4,80.6 L442.1,78.9 L442.8,77.7 L443.4,79.0 L444.1,80.6 L444.9,82.5 L445.7,83.6 L446.5,82.9 L447.2,82.6 L447.9,82.4 L448.6,80.6 L449.3,81.2 L450.0,83.6 L450.7,83.9 L451.5,82.6 L452.3,84.0 L453.1,83.6 L453.7,83.7 L454.4,84.5 L455.1,83.1 L455.8,83.2 L456.6,84.5 L457.3,84.5 L458.1,84.5 L458.9,82.6 L459.6,83.2 L460.3,84.5 L460.9,85.9 L461.6,85.5 L462.4,86.6 L463.2,86.5 L464.0,85.3 L464.7,83.6 L465.4,82.9 L466.1,82.6 L466.8,81.8 L467.5,83.2 L468.2,83.3 L469.0,81.6 L469.8,82.8 L470.6,82.6 L471.3,82.1 L471.9,79.7 L472.6,77.6 L473.3,76.8 L474.1,79.5 L474.9,80.6 L475.6,80.6 L476.4,78.7 L477.1,78.5 L477.8,77.7 L478.5,76.4 L479.1,75.8 L480.3,72.9 L481.0,75.7 L481.7,79.7 L482.3,80.2 L483.0,78.7 L483.8,77.6 L484.6,77.7 L485.4,77.3 L486.1,76.8 L486.8,76.3 L487.5,75.8 L488.2,74.9 L488.9,74.8 L489.6,73.6 L490.4,73.8 L491.2,72.3 L492.0,72.9 L492.7,72.9 L493.3,71.9 L494.0,72.6 L494.7,72.9 L495.5,74.0 L496.3,74.8 L497.0,72.8 L497.8,72.9 L498.5,75.2 L499.2,75.8 L499.9,74.7 L500.5,74.8 L501.3,75.1 L502.1,76.8 L502.9,77.5 L503.6,78.7 L504.3,76.9 L505.0,75.8 L505.7,74.5 L506.4,72.9 L507.2,73.9 L507.9,74.8 L508.6,73.8 L509.2,74.7 L509.9,73.8 L510.5,73.8 L511.2,74.3 L511.8,73.8" stroke="#0000ff" stroke-width="1.40" fill="none" stroke-linejoin="round"/>
</g>
<path d="M363.10,135.30 v-1.40 M363.10,71.10 v1.40 M392.92,135.30 v-1.40 M392.92,71.10 v1.40 M422.74,135.30 v-1.40 M422.74,71.10 v1.40 M452.56,135.30 v-1.40 M452.56,71.10 v1.40 M482.38,135.30 v-1.40 M482.38,71.10 v1.40 M512.20,135.30 v-1.40 M512.20,71.10 v1.40 M363.10,135.30 h1.40 M512.20,135.30 h-1.40 M363.10,119.25 h1.40 M512.20,119.25 h-1.40 M363.10,103.20 h1.40 M512.20,103.20 h-1.40 M363.10,87.15 h1.40 M512.20,87.15 h-1.40 M363.10,71.10 h1.40 M512.20,71.10 h-1.40" stroke="#262626" stroke-width="0.6" fill="none"/>
<rect x="363.10" y="71.10" width="149.10" height="64.20" fill="none" stroke="#555" stroke-width="1.3"/>
<g transform="translate(352.00,34.50) rotate(-90)">
<text x="-13.30" y="2.13" font-size="8.36" font-style="italic">V</text>
<text x="-8.70" y="3.83" font-size="5.41">W</text>
<text x="-2.70" y="2.13" font-size="8.20" textLength="16.00" lengthAdjust="spacingAndGlyphs">[m/s]</text>
</g>
<g transform="translate(347.00,103.60) rotate(-90)">
<text x="-8.60" y="2.08" font-size="8.00" font-style="italic">ψ</text>
<text x="-4.00" y="3.78" font-size="5.28">W</text>
<text x="2.40" y="2.08" font-size="8.00" textLength="6.20" lengthAdjust="spacingAndGlyphs">[°]</text>
</g>
<text class="xl" x="425.20" y="151.10" font-size="7.60" textLength="16.0" lengthAdjust="spacingAndGlyphs">Time</text>
<text class="xl" x="442.70" y="151.10" font-size="8.4">[</text>
<text class="xl" x="444.90" y="151.10" font-size="7.60">s</text>
<text class="xl" x="447.70" y="151.10" font-size="8.4">]</text>
<text style="fill:#262626;stroke:none;text-rendering:optimizeLegibility" x="394.70" y="163.00" font-size="10.60" dy="0.33em" textLength="67.80" lengthAdjust="spacingAndGlyphs">(c) P1R1V3.4</text>
<rect x="534.80" y="2.20" width="147.80" height="64.20" fill="#fff"/>
<path d="M564.36,2.20 V66.40 M593.92,2.20 V66.40 M623.48,2.20 V66.40 M653.04,2.20 V66.40 M534.80,45.00 H682.60 M534.80,23.60 H682.60" stroke="#dcdcdc" stroke-width="0.8" fill="none"/>
<text transform="translate(532.00,66.40) scale(0.860,1)" text-anchor="end" font-size="6.80" dy="0.46em">9</text>
<text transform="translate(532.00,45.00) scale(0.860,1)" text-anchor="end" font-size="6.80" dy="0.46em">10</text>
<text transform="translate(532.00,23.60) scale(0.860,1)" text-anchor="end" font-size="6.80" dy="0.46em">11</text>
<text transform="translate(532.00,2.20) scale(0.860,1)" text-anchor="end" font-size="6.80" dy="0.46em">12</text>
<g clip-path="url(#cdt)">
<path stroke-width="0.70" d="M534.8,44.7 L536.3,45.4 L537.8,46.3 L539.3,46.5 L540.8,46.7 L542.2,45.2 L543.7,43.8 L545.0,43.6 L546.3,43.4 L547.6,43.2 L548.9,43.3 L550.2,43.4 L551.5,43.2 L552.8,43.2 L554.0,43.3 L555.3,43.2 L556.6,43.7 L557.9,44.0 L559.2,44.4 L560.7,43.1 L562.2,41.2 L564.1,43.8 L565.6,44.8 L567.0,45.7 L568.5,44.5 L569.9,42.8 L571.4,41.6 L572.9,40.9 L574.3,39.6 L575.8,38.5 L577.2,39.9 L578.7,41.4 L580.2,42.3 L581.6,43.2 L583.1,41.3 L584.5,39.9 L586.0,40.0 L587.4,39.9 L588.9,41.0 L590.4,41.8 L591.7,42.6 L593.0,42.7 L594.3,43.2 L595.6,42.3 L596.9,41.2 L598.1,39.9 L599.4,39.7 L600.7,39.4 L602.0,39.3 L603.3,39.1 L604.6,39.5 L605.9,39.3 L607.2,39.2 L608.4,39.8 L609.6,39.7 L610.8,39.9 L612.3,40.1 L613.8,40.8 L615.2,41.4 L616.7,41.8 L618.0,41.8 L619.3,41.4 L620.6,41.2 L621.9,41.2 L623.2,41.2 L624.5,40.9 L625.9,41.1 L627.4,41.1 L628.8,41.5 L630.3,41.8 L631.8,41.7 L633.2,41.3 L634.7,41.1 L636.1,40.9 L637.4,41.6 L638.7,41.9 L640.0,42.4 L641.3,43.1 L642.6,43.0 L643.9,43.8 L645.2,44.5 L646.5,44.9 L647.8,45.7 L649.1,45.3 L650.4,45.1 L651.7,45.1 L653.0,45.4 L654.3,45.8 L655.6,45.7 L656.9,45.4 L658.2,45.4 L659.5,44.7 L660.8,44.8 L662.1,45.2 L663.4,45.7 L664.7,46.3 L666.0,46.9 L667.3,47.7 L668.6,47.6 L669.9,47.5 L671.1,47.7 L672.4,47.2 L673.7,46.2 L675.0,45.7 L676.3,46.1 L677.6,47.0 L678.9,47.7 L680.2,47.8 L681.5,48.1 L682.6,48.6" stroke="#ff00ff" fill="none" stroke-linejoin="round"/>
<path d="M534.8,34.0 L537.8,37.9 L540.8,41.8 L543.7,41.8 L547.6,41.2 L551.5,40.9 L554.4,37.9 L556.3,30.2 L558.3,23.3 L560.2,27.2 L563.1,29.2 L567.0,29.2 L570.9,24.3 L573.2,21.4 L575.8,23.3 L578.7,26.3 L581.6,24.3 L584.5,22.4 L586.9,21.4 L589.4,23.3 L592.3,25.3 L595.2,27.2 L598.1,29.2 L601.1,27.2 L603.0,24.3 L605.0,20.4 L607.9,18.5 L609.9,18.5 L611.8,20.4 L613.2,27.2 L614.7,38.9 L616.3,48.6 L618.6,52.5 L621.5,52.5 L623.5,48.6 L625.4,42.8 L627.4,40.9 L629.3,37.9 L631.3,35.0 L633.2,33.1 L636.1,32.1 L638.1,36.0 L640.0,41.8 L642.9,41.8 L645.9,40.5 L648.8,42.8 L651.3,47.7 L653.6,45.7 L656.0,41.8 L658.5,38.9 L661.4,36.0 L664.3,37.9 L666.9,38.9 L669.2,36.0 L672.1,34.0 L675.0,37.9 L678.0,42.8 L680.9,44.7 L682.6,47.7" stroke="#111" stroke-width="0.9" fill="none" stroke-dasharray="1.7,1.6" stroke-linejoin="round"/>
<path d="M534.8,31.1 L535.9,34.0 L536.7,35.8 L537.4,36.0 L538.1,37.3 L538.8,37.9 L539.5,39.3 L540.2,39.9 L540.9,37.4 L541.7,35.0 L542.5,35.7 L543.3,37.0 L544.0,37.6 L544.6,37.9 L545.3,36.0 L546.0,35.0 L546.8,35.4 L547.6,34.0 L548.3,35.1 L549.1,36.0 L549.8,36.2 L550.5,35.0 L551.5,37.9 L552.2,39.8 L553.0,41.8 L553.7,41.1 L554.4,38.9 L555.1,36.9 L555.7,35.0 L556.5,32.1 L557.3,31.1 L558.1,31.1 L558.8,30.2 L559.5,30.6 L560.2,29.2 L560.9,29.9 L561.6,30.2 L562.4,29.6 L563.1,28.2 L563.9,28.4 L564.7,29.2 L565.4,27.7 L566.0,27.2 L566.7,27.3 L567.4,28.2 L568.2,29.5 L569.0,30.2 L569.7,30.1 L570.5,28.2 L571.2,28.9 L571.9,31.1 L572.6,32.2 L573.2,34.0 L574.4,28.2 L575.1,25.7 L575.8,24.3 L576.5,25.7 L577.1,25.3 L577.9,26.7 L578.7,26.3 L579.5,26.1 L580.2,25.3 L580.9,26.1 L581.6,27.2 L582.3,26.0 L583.0,24.3 L583.8,24.2 L584.5,22.4 L585.5,20.4 L586.5,23.3 L587.3,23.7 L588.0,25.3 L588.7,28.9 L589.4,31.1 L590.1,30.7 L590.8,29.2 L591.5,27.9 L592.3,27.2 L593.1,27.5 L593.9,28.2 L594.5,28.3 L595.2,29.2 L595.9,29.5 L596.6,31.1 L597.4,31.9 L598.1,32.1 L598.9,33.2 L599.7,34.0 L600.4,34.2 L601.1,36.0 L601.7,37.0 L602.4,37.9 L603.2,35.0 L604.0,33.1 L604.8,33.6 L605.5,35.0 L606.2,34.2 L606.9,32.1 L607.6,30.1 L608.3,30.2 L609.0,28.9 L609.8,29.2 L610.8,35.0 L611.8,42.8 L612.5,44.7 L613.2,47.7 L613.9,48.6 L614.7,49.6 L615.5,50.1 L616.3,52.5 L617.0,54.7 L617.6,56.4 L618.3,54.1 L619.0,53.5 L619.8,51.9 L620.6,50.6 L621.3,48.8 L622.1,47.7 L622.8,46.6 L623.5,43.8 L624.2,41.5 L624.8,38.9 L625.6,38.0 L626.4,37.9 L627.2,37.0 L628.0,37.0 L628.6,35.9 L629.3,35.0 L630.0,34.7 L630.7,34.0 L631.5,32.9 L632.2,32.1 L633.0,32.0 L633.8,31.1 L634.5,30.5 L635.2,29.2 L635.8,28.7 L636.5,28.2 L637.7,32.1 L638.4,36.5 L639.0,38.9 L639.7,41.3 L640.4,43.8 L641.2,44.9 L642.0,46.7 L642.7,45.6 L643.5,43.8 L644.2,45.0 L644.9,47.7 L645.6,47.8 L646.2,46.7 L647.0,48.1 L647.8,49.6 L648.6,49.4 L649.4,50.6 L650.0,52.9 L650.7,53.5 L651.4,52.9 L652.1,50.6 L652.9,46.7 L653.6,43.8 L654.4,40.3 L655.2,37.9 L655.9,35.5 L656.6,34.0 L657.2,33.4 L657.9,31.1 L658.7,32.9 L659.5,33.1 L660.3,32.6 L661.0,31.1 L661.7,33.3 L662.4,34.0 L663.1,35.3 L663.8,37.0 L664.5,37.4 L665.3,37.9 L666.1,37.6 L666.9,36.0 L667.5,39.7 L668.2,41.8 L668.9,39.6 L669.6,38.9 L670.8,44.7 L671.4,48.1 L672.1,50.6 L672.8,52.4 L673.5,53.5 L674.3,51.1 L675.0,47.7 L675.8,46.0 L676.6,45.7 L677.3,47.3 L678.0,47.7 L678.6,45.7 L679.3,44.7 L680.1,44.7 L680.9,46.7 L681.7,48.9 L682.4,49.6 L682.6,52.5 L682.6,55.4" stroke="#0000ff" stroke-width="1.40" fill="none" stroke-linejoin="round"/>
</g>
<path d="M534.80,66.40 v-1.40 M534.80,2.20 v1.40 M564.36,66.40 v-1.40 M564.36,2.20 v1.40 M593.92,66.40 v-1.40 M593.92,2.20 v1.40 M623.48,66.40 v-1.40 M623.48,2.20 v1.40 M653.04,66.40 v-1.40 M653.04,2.20 v1.40 M682.60,66.40 v-1.40 M682.60,2.20 v1.40 M534.80,66.40 h1.40 M682.60,66.40 h-1.40 M534.80,45.00 h1.40 M682.60,45.00 h-1.40 M534.80,23.60 h1.40 M682.60,23.60 h-1.40 M534.80,2.20 h1.40 M682.60,2.20 h-1.40" stroke="#262626" stroke-width="0.6" fill="none"/>
<rect x="534.80" y="2.20" width="147.80" height="64.20" fill="none" stroke="#555" stroke-width="1.3"/>
<rect x="615.70" y="3.50" width="66.10" height="8.60" fill="#fff" stroke="#3a3a3a" stroke-width="1.0"/>
<line x1="616.71" y1="7.80" x2="625.33" y2="7.80" stroke="#3030ff" stroke-width="0.70"/>
<text transform="translate(625.94,7.80) scale(0.800,1)" font-size="6.90" dy="0.36em">ASR</text>
<line x1="638.61" y1="7.80" x2="648.04" y2="7.80" stroke="#111" stroke-width="0.80" stroke-dasharray="2.0,1.55"/>
<text transform="translate(648.34,7.80) scale(0.800,1)" font-size="6.90" dy="0.36em">AS</text>
<line x1="658.08" y1="7.80" x2="666.59" y2="7.80" stroke="#ff30ff" stroke-width="0.70"/>
<text transform="translate(667.40,7.80) scale(0.800,1)" font-size="6.90" dy="0.36em">W+G</text>
<rect x="534.80" y="71.50" width="147.80" height="63.80" fill="#fff"/>
<path d="M564.36,71.50 V135.30 M593.92,71.50 V135.30 M623.48,71.50 V135.30 M653.04,71.50 V135.30 M534.80,124.67 H682.60 M534.80,114.03 H682.60 M534.80,103.40 H682.60 M534.80,92.77 H682.60 M534.80,82.13 H682.60" stroke="#dcdcdc" stroke-width="0.8" fill="none"/>
<text transform="translate(532.00,135.30) scale(0.860,1)" text-anchor="end" font-size="6.80" dy="0.46em">-15</text>
<text transform="translate(532.00,124.67) scale(0.860,1)" text-anchor="end" font-size="6.80" dy="0.46em">-10</text>
<text transform="translate(532.00,114.03) scale(0.860,1)" text-anchor="end" font-size="6.80" dy="0.46em">-5</text>
<text transform="translate(532.00,103.40) scale(0.860,1)" text-anchor="end" font-size="6.80" dy="0.46em">0</text>
<text transform="translate(532.00,92.77) scale(0.860,1)" text-anchor="end" font-size="6.80" dy="0.46em">5</text>
<text transform="translate(532.00,82.13) scale(0.860,1)" text-anchor="end" font-size="6.80" dy="0.46em">10</text>
<text transform="translate(532.00,71.50) scale(0.860,1)" text-anchor="end" font-size="6.80" dy="0.46em">15</text>
<text transform="translate(534.80,143.60) scale(0.860,1)" text-anchor="middle" font-size="6.80">0</text>
<text transform="translate(564.36,143.60) scale(0.860,1)" text-anchor="middle" font-size="6.80">1</text>
<text transform="translate(593.92,143.60) scale(0.860,1)" text-anchor="middle" font-size="6.80">2</text>
<text transform="translate(623.48,143.60) scale(0.860,1)" text-anchor="middle" font-size="6.80">3</text>
<text transform="translate(653.04,143.60) scale(0.860,1)" text-anchor="middle" font-size="6.80">4</text>
<text transform="translate(682.60,143.60) scale(0.860,1)" text-anchor="middle" font-size="6.80">5</text>
<g clip-path="url(#cdb)">
<path stroke-width="0.70" d="M534.8,128.3 L536.3,128.5 L537.8,128.7 L539.1,128.4 L540.4,127.8 L541.7,127.3 L543.0,127.7 L544.3,128.2 L545.6,128.3 L546.9,127.8 L548.2,127.9 L549.5,127.3 L551.0,126.7 L552.4,126.0 L553.9,127.1 L555.3,128.7 L556.6,129.0 L557.9,128.9 L559.2,129.3 L560.5,129.2 L561.8,128.7 L563.1,128.3 L564.4,128.3 L565.7,128.8 L567.0,128.7 L568.3,128.3 L569.6,128.5 L570.9,127.9 L572.4,127.3 L573.8,127.3 L575.0,127.5 L576.3,127.9 L577.5,127.9 L578.7,128.3 L580.2,128.3 L581.6,128.3 L583.1,128.7 L584.5,128.7 L585.8,129.3 L587.1,129.4 L588.4,129.9 L589.9,129.8 L591.3,129.6 L592.8,129.5 L594.3,129.3 L595.7,129.4 L597.2,129.0 L598.6,128.8 L600.1,128.7 L601.4,129.1 L602.7,129.6 L604.0,129.9 L605.0,129.3 L606.5,129.7 L607.9,129.9 L609.4,129.6 L610.8,129.9 L612.3,129.5 L613.8,129.9 L615.2,129.4 L616.7,129.5 L618.1,129.6 L619.6,129.4 L621.1,129.6 L622.5,129.7 L624.0,129.7 L625.4,129.7 L626.9,129.2 L628.3,129.1 L629.8,128.9 L631.3,129.1 L632.7,128.8 L634.2,128.7 L635.4,128.9 L636.6,129.4 L637.8,129.7 L639.0,130.3 L640.3,130.3 L641.5,130.2 L642.7,129.7 L643.9,129.9 L645.4,130.1 L646.8,130.4 L648.3,130.7 L649.7,130.6 L651.2,131.2 L652.7,131.5 L654.1,131.8 L655.6,132.2 L657.0,132.2 L658.5,131.7 L660.0,131.3 L661.4,131.2 L662.7,131.4 L664.0,131.8 L665.3,132.2 L666.8,132.0 L668.2,131.9 L669.7,131.8 L671.1,131.8 L672.6,132.1 L674.1,131.8 L675.5,131.9 L677.0,132.2 L678.3,131.7 L679.6,131.4 L680.9,131.2 L682.3,132.0 L682.6,132.2" stroke="#ff00ff" fill="none" stroke-linejoin="round"/>
<path d="M534.8,91.3 L536.9,89.4 L538.8,87.5 L540.8,84.5 L542.7,86.5 L544.6,89.4 L547.6,91.3 L550.5,92.3 L553.4,93.3 L556.3,92.9 L559.2,92.3 L562.2,92.9 L565.1,93.7 L568.0,95.2 L570.9,96.2 L573.8,95.2 L576.7,96.2 L579.7,95.2 L582.6,92.3 L585.5,91.3 L588.4,92.3 L591.3,93.3 L594.3,94.3 L597.2,94.3 L600.1,96.2 L603.0,97.2 L605.9,96.2 L608.8,95.2 L610.8,95.2 L613.8,97.2 L616.7,101.1 L619.6,104.0 L622.5,105.0 L625.4,104.0 L628.3,103.0 L631.3,101.1 L634.2,100.1 L637.1,102.0 L640.0,105.0 L643.9,108.9 L647.8,110.8 L651.7,111.8 L655.6,112.7 L659.5,111.8 L663.4,109.8 L667.3,106.9 L671.1,103.0 L675.0,100.1 L678.9,97.2 L682.6,95.2" stroke="#111" stroke-width="0.9" fill="none" stroke-dasharray="1.7,1.6" stroke-linejoin="round"/>
<path d="M534.8,88.4 L535.9,86.5 L536.7,85.1 L537.4,85.5 L538.1,84.5 L538.8,82.6 L539.5,81.3 L540.2,81.6 L541.3,83.6 L542.0,85.5 L542.7,86.5 L543.4,87.9 L544.1,89.4 L544.8,88.9 L545.6,90.4 L546.4,90.9 L547.2,92.3 L547.9,91.2 L548.5,90.4 L549.2,91.7 L549.9,91.3 L550.7,94.0 L551.5,95.2 L552.2,93.3 L553.0,93.3 L553.7,92.8 L554.4,92.3 L555.1,94.1 L555.7,94.3 L556.5,93.3 L557.3,91.3 L558.1,92.0 L558.8,93.3 L559.5,92.4 L560.2,92.3 L560.9,93.1 L561.6,93.3 L562.4,92.9 L563.1,94.3 L563.9,95.1 L564.7,95.2 L565.4,96.7 L566.0,96.2 L566.7,95.6 L567.4,94.3 L568.2,94.5 L569.0,95.2 L569.7,94.1 L570.5,94.3 L571.2,94.3 L571.9,93.3 L572.6,91.2 L573.2,89.4 L574.4,88.4 L575.1,89.1 L575.8,91.3 L576.5,91.4 L577.1,92.3 L577.9,92.0 L578.7,90.4 L579.5,89.6 L580.2,89.4 L580.9,90.3 L581.6,90.4 L582.3,88.8 L583.0,88.4 L583.8,89.9 L584.5,89.4 L585.3,89.7 L586.1,91.3 L586.8,91.4 L587.4,93.3 L588.1,92.2 L588.8,92.3 L589.6,94.1 L590.4,94.3 L591.1,94.5 L591.9,95.2 L592.6,96.4 L593.3,97.2 L594.0,98.1 L594.6,99.1 L595.4,98.3 L596.2,98.2 L597.0,98.5 L597.8,99.1 L598.4,99.3 L599.1,100.1 L599.8,101.6 L600.5,101.1 L601.3,100.9 L602.0,99.1 L602.8,99.4 L603.6,98.2 L604.3,97.9 L605.0,97.2 L605.6,98.7 L606.3,99.1 L607.1,97.2 L607.9,97.2 L608.7,96.5 L609.4,95.2 L610.1,94.7 L610.8,96.2 L611.6,97.4 L612.4,99.1 L613.1,102.8 L613.8,107.9 L614.4,107.7 L615.1,107.5 L615.7,108.9 L616.3,108.0 L617.0,107.4 L617.6,107.9 L618.3,105.8 L619.0,103.0 L619.8,102.2 L620.6,100.1 L621.3,103.4 L622.1,105.9 L622.8,108.8 L623.5,110.8 L624.2,107.6 L624.8,105.9 L625.6,105.1 L626.4,103.0 L627.2,104.2 L628.0,105.0 L628.6,106.7 L629.3,108.9 L630.0,106.5 L630.7,105.0 L631.5,102.6 L632.2,102.0 L633.0,100.8 L633.8,99.1 L634.5,101.1 L635.2,102.0 L635.8,102.7 L636.5,104.0 L637.3,105.3 L638.1,105.0 L638.9,105.7 L639.6,107.9 L640.3,110.4 L641.0,110.8 L641.7,112.6 L642.4,112.7 L643.1,113.1 L643.9,113.7 L644.7,114.4 L645.5,115.7 L646.1,117.5 L646.8,118.6 L647.5,119.9 L648.2,120.5 L649.0,118.6 L649.7,116.6 L650.5,114.9 L651.3,113.7 L652.0,114.1 L652.7,115.7 L653.3,115.1 L654.0,114.7 L654.8,116.7 L655.6,119.6 L656.4,118.3 L657.1,117.6 L657.8,119.3 L658.5,121.5 L659.2,118.5 L659.9,116.6 L660.6,114.9 L661.4,113.7 L662.2,112.4 L663.0,111.8 L663.7,111.5 L664.3,109.8 L665.0,108.2 L665.7,107.9 L666.5,107.4 L667.3,108.9 L668.0,106.8 L668.8,105.9 L669.5,106.5 L670.2,106.9 L670.9,104.7 L671.5,104.0 L672.3,102.6 L673.1,102.0 L673.9,100.4 L674.6,99.1 L675.3,98.6 L676.0,98.2 L676.7,96.8 L677.4,95.2 L678.2,95.5 L678.9,96.2 L679.7,97.7 L680.5,99.1 L681.2,101.6 L681.8,102.0 L682.5,102.2 L682.6,104.3 L682.6,104.0" stroke="#0000ff" stroke-width="1.40" fill="none" stroke-linejoin="round"/>
</g>
<path d="M534.80,135.30 v-1.40 M534.80,71.50 v1.40 M564.36,135.30 v-1.40 M564.36,71.50 v1.40 M593.92,135.30 v-1.40 M593.92,71.50 v1.40 M623.48,135.30 v-1.40 M623.48,71.50 v1.40 M653.04,135.30 v-1.40 M653.04,71.50 v1.40 M682.60,135.30 v-1.40 M682.60,71.50 v1.40 M534.80,135.30 h1.40 M682.60,135.30 h-1.40 M534.80,124.67 h1.40 M682.60,124.67 h-1.40 M534.80,114.03 h1.40 M682.60,114.03 h-1.40 M534.80,103.40 h1.40 M682.60,103.40 h-1.40 M534.80,92.77 h1.40 M682.60,92.77 h-1.40 M534.80,82.13 h1.40 M682.60,82.13 h-1.40 M534.80,71.50 h1.40 M682.60,71.50 h-1.40" stroke="#262626" stroke-width="0.6" fill="none"/>
<rect x="534.80" y="71.50" width="147.80" height="63.80" fill="none" stroke="#555" stroke-width="1.3"/>
<g transform="translate(520.90,34.30) rotate(-90)">
<text x="-13.30" y="2.13" font-size="8.36" font-style="italic">V</text>
<text x="-8.70" y="3.83" font-size="5.41">W</text>
<text x="-2.70" y="2.13" font-size="8.20" textLength="16.00" lengthAdjust="spacingAndGlyphs">[m/s]</text>
</g>
<g transform="translate(519.00,103.60) rotate(-90)">
<text x="-8.60" y="2.08" font-size="8.00" font-style="italic">ψ</text>
<text x="-4.00" y="3.78" font-size="5.28">W</text>
<text x="2.40" y="2.08" font-size="8.00" textLength="6.20" lengthAdjust="spacingAndGlyphs">[°]</text>
</g>
<text class="xl" x="597.50" y="151.10" font-size="7.60" textLength="16.0" lengthAdjust="spacingAndGlyphs">Time</text>
<text class="xl" x="615.00" y="151.10" font-size="8.4">[</text>
<text class="xl" x="617.20" y="151.10" font-size="7.60">s</text>
<text class="xl" x="620.00" y="151.10" font-size="8.4">]</text>
<text style="fill:#262626;stroke:none;text-rendering:optimizeLegibility" x="563.60" y="163.00" font-size="10.60" dy="0.33em" textLength="73.50" lengthAdjust="spacingAndGlyphs">(d) P1R1V10.5</text>
<rect x="17.20" y="192.20" width="151.10" height="64.80" fill="#fff"/>
<path d="M47.42,192.20 V257.00 M77.64,192.20 V257.00 M107.86,192.20 V257.00 M138.08,192.20 V257.00 M17.20,246.20 H168.30 M17.20,235.40 H168.30 M17.20,224.60 H168.30 M17.20,213.80 H168.30 M17.20,203.00 H168.30" stroke="#dcdcdc" stroke-width="0.8" fill="none"/>
<text transform="translate(14.40,257.00) scale(0.860,1)" text-anchor="end" font-size="6.80" dy="0.46em">17</text>
<text transform="translate(14.40,246.20) scale(0.860,1)" text-anchor="end" font-size="6.80" dy="0.46em">18</text>
<text transform="translate(14.40,235.40) scale(0.860,1)" text-anchor="end" font-size="6.80" dy="0.46em">19</text>
<text transform="translate(14.40,224.60) scale(0.860,1)" text-anchor="end" font-size="6.80" dy="0.46em">20</text>
<text transform="translate(14.40,213.80) scale(0.860,1)" text-anchor="end" font-size="6.80" dy="0.46em">21</text>
<text transform="translate(14.40,203.00) scale(0.860,1)" text-anchor="end" font-size="6.80" dy="0.46em">22</text>
<text transform="translate(14.40,192.20) scale(0.860,1)" text-anchor="end" font-size="6.80" dy="0.46em">23</text>
<g clip-path="url(#cet)">
<path stroke-width="0.70" d="M17.2,245.4 L18.6,245.1 L20.0,245.1 L21.4,244.9 L22.8,245.1 L24.2,245.2 L25.7,245.1 L27.2,245.3 L28.6,245.4 L30.1,245.9 L31.5,246.0 L33.0,245.9 L34.5,246.4 L35.9,246.2 L37.4,246.3 L38.8,245.9 L40.3,246.0 L41.8,245.8 L43.2,245.2 L44.7,244.8 L46.1,244.5 L47.6,245.1 L49.0,245.8 L51.0,246.4 L52.5,245.6 L53.9,245.1 L55.4,245.1 L56.8,245.4 L58.3,245.5 L59.7,245.4 L61.2,245.6 L62.7,245.7 L64.1,245.4 L65.6,245.4 L67.0,245.8 L68.5,246.1 L70.0,246.3 L71.4,246.4 L72.9,246.2 L74.3,246.7 L75.8,246.6 L77.3,246.4 L78.7,246.2 L80.2,246.4 L81.6,246.2 L83.1,246.4 L84.4,246.0 L85.7,245.1 L87.0,244.5 L88.3,244.4 L89.6,244.2 L90.9,244.1 L92.1,244.2 L93.4,244.0 L94.6,243.6 L95.8,243.5 L97.3,243.7 L98.8,244.1 L100.2,244.1 L101.7,244.1 L103.1,244.1 L104.6,244.1 L106.1,243.6 L107.5,243.5 L109.0,243.4 L110.4,243.0 L111.9,242.6 L113.3,242.5 L114.6,242.2 L115.9,242.0 L117.2,241.6 L118.5,242.2 L119.8,242.2 L121.1,242.5 L122.4,242.1 L123.7,242.2 L125.0,241.6 L126.3,242.1 L127.6,242.4 L128.9,242.5 L130.1,242.0 L131.3,242.2 L132.6,241.8 L133.8,241.6 L135.2,242.0 L136.7,242.9 L138.0,242.5 L139.3,242.7 L140.6,242.1 L141.9,242.2 L143.2,242.4 L144.5,242.5 L145.8,242.4 L147.1,241.7 L148.4,241.6 L149.7,241.8 L151.0,241.7 L152.3,242.1 L153.6,242.3 L154.9,242.5 L156.1,242.5 L157.4,242.8 L158.7,242.8 L160.0,242.9 L161.3,242.7 L162.6,242.7 L163.9,242.1 L165.1,242.3 L166.4,242.3 L167.6,242.6 L168.3,242.5" stroke="#ff00ff" fill="none" stroke-linejoin="round"/>
<path d="M17.2,196.8 L19.9,197.8 L22.8,199.7 L25.7,201.7 L28.6,200.1 L31.5,199.7 L34.5,201.7 L37.4,203.6 L40.3,204.6 L43.2,205.6 L46.1,205.6 L49.0,206.0 L52.0,205.6 L54.9,204.6 L57.8,202.6 L59.7,202.1 L62.7,203.6 L65.6,204.6 L68.5,205.6 L71.4,206.5 L74.3,208.5 L77.3,210.4 L80.2,209.5 L83.1,209.5 L85.0,211.4 L87.0,214.3 L89.9,215.3 L92.9,212.4 L95.8,208.5 L98.8,207.1 L101.7,208.5 L104.6,210.4 L107.5,211.4 L110.4,211.0 L113.3,213.3 L116.3,215.3 L119.2,216.3 L122.1,216.3 L125.0,215.3 L127.9,213.3 L130.9,210.4 L133.8,209.1 L136.7,210.4 L139.6,211.4 L142.5,212.4 L145.4,214.3 L148.4,216.3 L151.3,215.7 L154.2,214.9 L157.1,215.3 L160.0,217.2 L163.0,219.2 L165.9,221.1 L168.3,223.1" stroke="#111" stroke-width="0.9" fill="none" stroke-dasharray="1.7,1.6" stroke-linejoin="round"/>
<path d="M17.2,208.5 L18.0,210.4 L18.9,210.4 L19.7,210.8 L20.4,212.4 L21.1,212.3 L21.8,213.3 L22.5,213.3 L23.2,214.3 L23.9,214.5 L24.7,215.3 L25.5,213.8 L26.3,213.3 L27.0,213.5 L27.6,214.3 L28.3,213.9 L29.0,212.4 L29.8,211.2 L30.6,210.4 L31.3,211.6 L32.1,212.4 L32.8,213.3 L33.5,213.3 L34.2,212.3 L34.8,212.4 L35.6,212.0 L36.4,213.3 L37.2,214.5 L38.0,214.3 L38.6,214.4 L39.3,215.3 L40.0,214.9 L40.7,216.3 L41.5,215.9 L42.2,215.3 L43.0,216.5 L43.8,216.3 L44.5,217.5 L45.2,217.2 L45.8,215.8 L46.5,216.3 L47.3,217.2 L48.1,219.2 L48.9,217.8 L49.6,217.2 L50.3,217.5 L51.0,216.3 L51.7,216.5 L52.4,218.2 L53.1,217.7 L53.9,217.2 L54.7,218.3 L55.5,219.2 L56.1,219.2 L56.8,217.2 L57.5,217.0 L58.2,215.3 L59.0,216.0 L59.7,216.3 L60.5,215.6 L61.3,214.3 L62.0,215.5 L62.7,217.2 L63.3,216.4 L64.0,215.3 L64.8,215.2 L65.6,214.3 L66.4,215.6 L67.1,217.2 L67.8,218.8 L68.5,219.2 L69.2,217.2 L69.9,217.2 L70.6,217.8 L71.4,216.3 L72.2,216.9 L73.0,216.3 L73.7,216.5 L74.3,218.2 L75.0,218.2 L75.7,220.2 L76.5,221.2 L77.3,223.1 L78.0,224.0 L78.8,225.0 L79.5,224.5 L80.2,224.0 L80.9,222.3 L81.5,221.1 L82.3,221.2 L83.1,220.2 L83.9,219.9 L84.6,219.2 L85.3,222.4 L86.0,224.0 L86.7,225.9 L87.4,227.0 L88.2,225.5 L88.9,225.0 L89.7,223.9 L90.5,224.0 L91.2,223.6 L91.8,222.1 L92.5,221.2 L93.2,219.2 L94.3,217.2 L95.1,217.0 L95.8,215.3 L96.6,216.5 L97.4,217.2 L98.1,217.3 L98.8,218.2 L99.4,217.9 L100.1,219.2 L100.9,218.2 L101.7,218.2 L102.5,219.1 L103.2,220.2 L103.9,221.3 L104.6,221.1 L105.3,220.6 L106.0,220.2 L106.7,220.5 L107.5,222.1 L108.3,223.1 L109.1,224.0 L109.7,222.8 L110.4,222.1 L111.1,221.4 L111.8,221.1 L112.6,222.0 L113.3,224.0 L114.1,226.0 L114.9,226.0 L115.6,228.5 L116.3,228.9 L116.9,227.6 L117.6,227.9 L118.4,227.6 L119.2,227.9 L120.0,226.3 L120.7,224.0 L121.4,223.1 L122.1,222.1 L122.8,221.8 L123.5,221.1 L124.2,221.2 L125.0,220.2 L125.8,220.6 L126.6,221.1 L127.3,222.5 L127.9,223.1 L128.6,223.0 L129.3,224.0 L130.1,224.7 L130.9,225.0 L131.6,226.5 L132.4,226.0 L133.1,227.4 L133.8,227.0 L134.5,226.9 L135.1,226.0 L135.9,226.3 L136.7,227.9 L137.5,226.1 L138.2,224.0 L138.9,223.7 L139.6,223.1 L140.3,221.7 L141.0,222.1 L141.8,222.2 L142.5,223.1 L143.3,222.9 L144.1,222.1 L144.8,224.3 L145.4,225.0 L146.1,227.4 L146.8,227.9 L147.6,228.9 L148.4,229.9 L149.1,229.2 L149.9,228.9 L150.6,228.1 L151.3,227.0 L152.0,225.3 L152.6,224.0 L153.4,222.9 L154.2,223.1 L155.0,223.8 L155.8,225.0 L156.4,225.6 L157.1,227.0 L157.8,227.8 L158.5,227.9 L159.3,227.7 L160.0,228.5 L160.8,229.3 L161.6,229.9 L162.2,231.1 L162.9,230.4 L163.5,230.9 L164.2,230.5 L164.8,231.5 L165.5,230.5 L166.1,231.0 L166.8,231.3 L167.4,231.8 L168.1,230.9 L168.3,231.2" stroke="#0000ff" stroke-width="1.15" fill="none" stroke-linejoin="round"/>
</g>
<path d="M17.20,257.00 v-1.40 M17.20,192.20 v1.40 M47.42,257.00 v-1.40 M47.42,192.20 v1.40 M77.64,257.00 v-1.40 M77.64,192.20 v1.40 M107.86,257.00 v-1.40 M107.86,192.20 v1.40 M138.08,257.00 v-1.40 M138.08,192.20 v1.40 M168.30,257.00 v-1.40 M168.30,192.20 v1.40 M17.20,257.00 h1.40 M168.30,257.00 h-1.40 M17.20,246.20 h1.40 M168.30,246.20 h-1.40 M17.20,235.40 h1.40 M168.30,235.40 h-1.40 M17.20,224.60 h1.40 M168.30,224.60 h-1.40 M17.20,213.80 h1.40 M168.30,213.80 h-1.40 M17.20,203.00 h1.40 M168.30,203.00 h-1.40 M17.20,192.20 h1.40 M168.30,192.20 h-1.40" stroke="#262626" stroke-width="0.6" fill="none"/>
<rect x="17.20" y="192.20" width="151.10" height="64.80" fill="none" stroke="#555" stroke-width="1.3"/>
<rect x="98.80" y="194.90" width="67.10" height="7.70" fill="#fff" stroke="#3a3a3a" stroke-width="1.0"/>
<line x1="99.83" y1="198.75" x2="108.58" y2="198.75" stroke="#3030ff" stroke-width="0.70"/>
<text transform="translate(109.19,198.75) scale(0.800,1)" font-size="6.90" dy="0.36em">ASR</text>
<line x1="122.06" y1="198.75" x2="131.63" y2="198.75" stroke="#111" stroke-width="0.80" stroke-dasharray="2.0,1.55"/>
<text transform="translate(131.94,198.75) scale(0.800,1)" font-size="6.90" dy="0.36em">AS</text>
<line x1="141.82" y1="198.75" x2="150.46" y2="198.75" stroke="#ff30ff" stroke-width="0.70"/>
<text transform="translate(151.29,198.75) scale(0.800,1)" font-size="6.90" dy="0.36em">W+G</text>
<rect x="17.20" y="261.70" width="151.10" height="65.00" fill="#fff"/>
<path d="M47.42,261.70 V326.70 M77.64,261.70 V326.70 M107.86,261.70 V326.70 M138.08,261.70 V326.70 M17.20,310.45 H168.30 M17.20,294.20 H168.30 M17.20,277.95 H168.30" stroke="#dcdcdc" stroke-width="0.8" fill="none"/>
<text transform="translate(14.40,326.70) scale(0.860,1)" text-anchor="end" font-size="6.80" dy="0.46em">-5</text>
<text transform="translate(14.40,310.45) scale(0.860,1)" text-anchor="end" font-size="6.80" dy="0.46em">0</text>
<text transform="translate(14.40,294.20) scale(0.860,1)" text-anchor="end" font-size="6.80" dy="0.46em">5</text>
<text transform="translate(14.40,277.95) scale(0.860,1)" text-anchor="end" font-size="6.80" dy="0.46em">10</text>
<text transform="translate(14.40,261.70) scale(0.860,1)" text-anchor="end" font-size="6.80" dy="0.46em">15</text>
<text transform="translate(17.20,335.00) scale(0.860,1)" text-anchor="middle" font-size="6.80">0</text>
<text transform="translate(47.42,335.00) scale(0.860,1)" text-anchor="middle" font-size="6.80">1</text>
<text transform="translate(77.64,335.00) scale(0.860,1)" text-anchor="middle" font-size="6.80">2</text>
<text transform="translate(107.86,335.00) scale(0.860,1)" text-anchor="middle" font-size="6.80">3</text>
<text transform="translate(138.08,335.00) scale(0.860,1)" text-anchor="middle" font-size="6.80">4</text>
<text transform="translate(168.30,335.00) scale(0.860,1)" text-anchor="middle" font-size="6.80">5</text>
<g clip-path="url(#ceb)">
<path stroke-width="0.70" d="M17.2,305.7 L18.4,305.0 L19.6,304.9 L20.8,304.7 L22.1,305.4 L23.4,305.9 L24.7,306.2 L26.2,306.6 L27.6,306.7 L29.1,306.4 L30.6,306.6 L32.0,306.6 L33.5,306.8 L34.9,307.0 L36.4,307.0 L37.9,307.0 L39.3,307.5 L40.8,307.3 L42.2,307.6 L43.7,307.9 L45.2,308.0 L46.6,307.9 L48.1,308.2 L49.5,308.3 L51.0,308.7 L52.5,308.8 L53.9,309.0 L55.4,308.9 L56.8,309.2 L58.3,308.9 L59.7,309.0 L61.2,309.2 L62.7,309.3 L64.1,310.1 L65.6,310.1 L67.0,310.5 L68.5,310.6 L70.0,310.7 L71.4,310.9 L72.9,310.9 L74.3,310.9 L75.8,311.4 L77.3,311.5 L78.7,311.8 L80.2,312.1 L81.6,311.7 L83.1,312.1 L84.6,311.8 L86.0,311.7 L87.5,311.7 L88.9,311.9 L90.0,312.5 L91.3,312.1 L92.6,311.5 L93.9,310.9 L95.1,310.8 L96.3,310.2 L97.5,309.7 L98.8,309.6 L100.0,309.9 L101.2,310.1 L102.4,309.8 L103.6,310.1 L104.8,310.1 L106.1,310.3 L107.3,310.6 L108.5,310.9 L109.7,310.9 L110.9,310.8 L112.1,310.5 L113.3,310.5 L114.6,310.8 L115.8,311.5 L117.0,312.3 L118.2,312.5 L119.4,313.2 L120.6,313.0 L121.9,313.4 L123.1,314.0 L124.5,313.9 L126.0,314.4 L127.5,314.6 L128.9,314.8 L130.4,315.3 L131.8,315.5 L133.3,316.2 L134.7,316.4 L136.2,316.8 L137.7,316.7 L139.1,317.4 L140.6,317.3 L142.0,317.3 L143.5,316.7 L145.0,317.1 L146.4,316.8 L147.9,317.1 L149.3,317.5 L150.8,317.7 L152.3,317.9 L153.7,318.1 L155.2,318.4 L156.6,318.6 L158.1,318.7 L159.6,318.6 L161.0,318.9 L162.5,319.1 L163.9,319.3 L165.1,319.2 L166.4,319.4 L167.6,319.1 L168.3,319.3" stroke="#ff00ff" fill="none" stroke-linejoin="round"/>
<path d="M17.2,293.0 L19.9,290.1 L22.8,288.2 L25.7,288.2 L28.6,292.0 L31.5,293.4 L34.5,293.0 L37.4,292.0 L40.3,291.5 L44.2,291.5 L47.1,292.0 L50.0,291.5 L52.9,291.5 L55.9,293.0 L58.8,295.9 L60.7,295.0 L63.6,292.0 L66.6,292.0 L69.5,294.0 L72.4,296.9 L75.3,299.8 L77.3,301.2 L80.2,298.9 L82.1,295.9 L85.0,296.5 L88.0,296.9 L90.9,297.9 L92.9,298.9 L95.8,299.8 L98.8,299.2 L101.7,298.9 L105.6,299.8 L109.5,300.8 L113.3,303.1 L117.2,304.3 L121.1,305.1 L125.0,306.2 L128.9,306.6 L132.8,307.6 L136.7,308.2 L140.6,309.0 L144.5,310.1 L148.4,310.1 L152.3,309.0 L156.1,310.9 L160.0,312.1 L163.9,312.5 L168.3,314.0" stroke="#111" stroke-width="0.9" fill="none" stroke-dasharray="1.7,1.6" stroke-linejoin="round"/>
<path d="M17.2,276.5 L18.0,275.7 L18.9,275.5 L19.7,274.3 L20.4,273.6 L21.1,272.1 L21.8,271.6 L22.5,272.6 L23.2,272.6 L23.9,273.5 L24.7,276.5 L25.5,275.9 L26.3,274.5 L27.0,275.2 L27.6,276.5 L28.3,275.4 L29.0,275.5 L29.8,276.6 L30.6,277.5 L31.3,279.0 L32.1,279.4 L32.8,279.6 L33.5,280.4 L34.2,278.5 L34.8,276.5 L35.6,275.1 L36.4,272.6 L37.2,273.5 L38.0,273.6 L38.6,275.0 L39.3,276.5 L40.0,276.9 L40.7,278.4 L41.5,278.9 L42.2,279.4 L43.0,277.2 L43.8,274.5 L44.5,274.8 L45.2,273.6 L45.8,275.1 L46.5,277.5 L47.3,278.2 L48.1,279.4 L48.9,278.9 L49.6,277.5 L50.3,276.8 L51.0,276.5 L51.7,277.1 L52.4,276.5 L53.1,276.7 L53.9,277.5 L54.7,278.7 L55.5,281.3 L56.1,283.9 L56.8,285.2 L57.5,284.3 L58.2,284.3 L59.0,283.4 L59.7,281.3 L60.5,281.9 L61.3,280.4 L62.0,282.1 L62.7,283.3 L63.3,284.9 L64.0,286.2 L64.8,285.3 L65.6,283.3 L66.4,281.9 L67.1,280.4 L67.8,282.1 L68.5,282.3 L69.2,285.1 L69.9,286.2 L70.6,287.5 L71.4,289.1 L72.2,290.7 L73.0,292.0 L73.7,289.7 L74.3,289.1 L75.0,287.2 L75.7,285.2 L76.5,283.9 L77.3,282.3 L78.0,285.7 L78.8,287.2 L79.5,290.7 L80.2,293.0 L80.9,293.0 L81.5,295.0 L82.3,293.6 L83.1,291.1 L83.9,286.5 L84.6,283.3 L85.3,281.8 L86.0,279.4 L86.7,281.4 L87.4,281.3 L88.2,284.8 L88.9,287.2 L89.7,291.7 L90.5,295.9 L91.2,293.1 L91.8,292.0 L92.5,288.4 L93.2,283.3 L94.3,281.3 L95.1,282.0 L95.8,284.3 L96.6,285.9 L97.4,289.1 L98.1,288.9 L98.8,287.2 L99.4,286.9 L100.1,286.2 L100.9,286.2 L101.7,285.2 L102.5,283.3 L103.2,282.3 L103.9,283.8 L104.6,285.2 L105.3,285.5 L106.0,286.2 L106.7,286.7 L107.5,287.2 L108.3,289.0 L109.1,291.1 L109.7,293.3 L110.4,294.0 L111.1,292.4 L111.8,291.1 L112.6,293.0 L113.3,295.0 L114.1,296.9 L114.9,296.9 L115.6,296.9 L116.3,295.0 L116.9,292.9 L117.6,292.0 L118.4,291.2 L119.2,291.1 L120.0,292.0 L120.7,295.0 L121.4,296.4 L122.1,295.9 L122.8,295.9 L123.5,295.0 L124.2,294.6 L125.0,294.0 L125.8,292.9 L126.6,292.0 L127.3,291.6 L127.9,292.0 L128.6,293.9 L129.3,294.0 L130.1,293.9 L130.9,295.0 L131.6,295.4 L132.4,297.9 L133.1,296.1 L133.8,295.9 L134.5,293.2 L135.1,292.0 L136.3,293.0 L137.0,296.1 L137.7,299.8 L138.3,301.4 L139.0,303.7 L139.8,301.7 L140.6,300.8 L141.4,299.0 L142.1,297.9 L142.8,298.2 L143.5,298.9 L144.2,300.4 L144.9,301.8 L145.6,302.3 L146.4,304.7 L147.2,303.2 L148.0,300.8 L148.7,298.1 L149.3,295.0 L150.0,294.9 L150.7,294.0 L151.5,294.5 L152.3,296.9 L153.0,298.1 L153.8,299.8 L154.5,301.5 L155.2,301.8 L155.9,301.8 L156.5,302.7 L157.3,302.6 L158.1,303.7 L158.9,302.9 L159.6,300.8 L160.3,301.6 L161.0,303.7 L161.7,306.2 L162.4,306.6 L163.2,308.0 L163.9,307.6 L164.7,306.8 L165.5,306.6 L166.2,305.5 L166.8,304.3 L167.5,305.0 L168.1,303.8 L168.3,304.7" stroke="#0000ff" stroke-width="1.15" fill="none" stroke-linejoin="round"/>
</g>
<path d="M17.20,326.70 v-1.40 M17.20,261.70 v1.40 M47.42,326.70 v-1.40 M47.42,261.70 v1.40 M77.64,326.70 v-1.40 M77.64,261.70 v1.40 M107.86,326.70 v-1.40 M107.86,261.70 v1.40 M138.08,326.70 v-1.40 M138.08,261.70 v1.40 M168.30,326.70 v-1.40 M168.30,261.70 v1.40 M17.20,326.70 h1.40 M168.30,326.70 h-1.40 M17.20,310.45 h1.40 M168.30,310.45 h-1.40 M17.20,294.20 h1.40 M168.30,294.20 h-1.40 M17.20,277.95 h1.40 M168.30,277.95 h-1.40 M17.20,261.70 h1.40 M168.30,261.70 h-1.40" stroke="#262626" stroke-width="0.6" fill="none"/>
<rect x="17.20" y="261.70" width="151.10" height="65.00" fill="none" stroke="#555" stroke-width="1.3"/>
<g transform="translate(4.30,224.50) rotate(-90)">
<text x="-13.30" y="2.13" font-size="8.36" font-style="italic">V</text>
<text x="-8.70" y="3.83" font-size="5.41">W</text>
<text x="-2.70" y="2.13" font-size="8.20" textLength="16.00" lengthAdjust="spacingAndGlyphs">[m/s]</text>
</g>
<g transform="translate(4.70,293.90) rotate(-90)">
<text x="-8.60" y="2.08" font-size="8.00" font-style="italic">ψ</text>
<text x="-4.00" y="3.78" font-size="5.28">W</text>
<text x="2.40" y="2.08" font-size="8.00" textLength="6.20" lengthAdjust="spacingAndGlyphs">[°]</text>
</g>
<text class="xl" x="80.80" y="342.70" font-size="7.60" textLength="16.0" lengthAdjust="spacingAndGlyphs">Time</text>
<text class="xl" x="98.30" y="342.70" font-size="8.4">[</text>
<text class="xl" x="100.50" y="342.70" font-size="7.60">s</text>
<text class="xl" x="103.30" y="342.70" font-size="8.4">]</text>
<text style="fill:#262626;stroke:none;text-rendering:optimizeLegibility" x="48.50" y="353.50" font-size="10.60" dy="0.33em" textLength="73.20" lengthAdjust="spacingAndGlyphs">(e) P1R1V21.3</text>
<rect x="191.40" y="193.80" width="148.90" height="64.00" fill="#fff"/>
<path d="M216.22,193.80 V257.80 M241.03,193.80 V257.80 M265.85,193.80 V257.80 M290.67,193.80 V257.80 M315.48,193.80 V257.80 M191.40,249.80 H340.30 M191.40,241.80 H340.30 M191.40,233.80 H340.30 M191.40,225.80 H340.30 M191.40,217.80 H340.30 M191.40,209.80 H340.30 M191.40,201.80 H340.30" stroke="#dcdcdc" stroke-width="0.8" fill="none"/>
<text transform="translate(188.60,257.80) scale(0.860,1)" text-anchor="end" font-size="6.80" dy="0.46em">22</text>
<text transform="translate(188.60,249.80) scale(0.860,1)" text-anchor="end" font-size="6.80" dy="0.46em">23</text>
<text transform="translate(188.60,241.80) scale(0.860,1)" text-anchor="end" font-size="6.80" dy="0.46em">24</text>
<text transform="translate(188.60,233.80) scale(0.860,1)" text-anchor="end" font-size="6.80" dy="0.46em">25</text>
<text transform="translate(188.60,225.80) scale(0.860,1)" text-anchor="end" font-size="6.80" dy="0.46em">26</text>
<text transform="translate(188.60,217.80) scale(0.860,1)" text-anchor="end" font-size="6.80" dy="0.46em">27</text>
<text transform="translate(188.60,209.80) scale(0.860,1)" text-anchor="end" font-size="6.80" dy="0.46em">28</text>
<text transform="translate(188.60,201.80) scale(0.860,1)" text-anchor="end" font-size="6.80" dy="0.46em">29</text>
<text transform="translate(188.60,193.80) scale(0.860,1)" text-anchor="end" font-size="6.80" dy="0.46em">30</text>
<g clip-path="url(#cft)">
<path stroke-width="0.60" d="M191.5,253.2 L192.7,253.3 L194.0,253.1 L195.2,253.4 L196.5,253.5 L197.7,253.2 L199.2,253.4 L200.6,253.0 L202.1,253.5 L203.6,253.2 L205.0,253.5 L206.5,253.3 L207.9,253.4 L209.4,253.8 L210.9,253.5 L212.3,253.2 L213.8,253.5 L215.2,253.2 L216.7,252.9 L218.2,252.6 L219.6,252.2 L221.1,251.3 L222.5,251.8 L224.0,252.6 L225.5,252.8 L226.9,253.2 L228.2,253.0 L229.5,253.5 L230.8,253.2 L232.1,252.9 L233.4,252.4 L234.7,252.3 L236.2,252.0 L237.6,252.4 L239.1,252.4 L240.5,252.3 L242.0,252.0 L243.4,252.3 L244.9,252.3 L246.4,252.3 L247.8,252.1 L249.3,252.4 L250.7,252.4 L252.2,252.3 L253.7,252.6 L255.1,252.3 L256.6,252.5 L258.0,252.3 L259.3,252.2 L260.5,252.2 L261.7,252.4 L262.9,252.6 L264.4,253.2 L265.9,253.2 L267.2,252.9 L268.5,252.6 L269.8,252.6 L271.1,252.6 L272.4,252.4 L273.7,252.3 L275.0,252.3 L276.3,252.7 L277.6,252.6 L278.9,252.7 L280.2,252.5 L281.5,252.3 L282.8,252.5 L284.0,252.6 L285.3,252.6 L286.6,253.0 L287.9,253.2 L289.2,253.8 L290.5,254.0 L291.8,253.6 L293.1,253.8 L294.4,253.4 L295.7,253.5 L297.0,253.2 L298.3,253.7 L299.6,253.4 L300.9,253.8 L302.2,254.1 L303.5,254.3 L304.8,254.2 L306.1,253.9 L307.4,254.0 L308.7,253.8 L310.0,253.8 L311.3,254.1 L312.6,254.6 L313.9,255.0 L315.2,255.2 L316.5,255.2 L317.8,255.5 L319.1,255.4 L320.4,255.2 L321.7,255.0 L323.0,255.2 L324.3,255.2 L325.6,255.1 L326.9,254.9 L328.1,255.2 L329.4,255.6 L330.7,255.7 L332.0,255.8 L333.3,255.6 L334.6,256.2 L335.9,256.1 L337.2,255.8 L338.5,255.3 L339.8,255.2" stroke="#ff00ff" fill="none" stroke-linejoin="round"/>
<path d="M191.5,202.6 L195.8,204.0 L199.7,203.6 L203.6,203.6 L206.5,203.2 L209.4,204.6 L212.3,205.6 L215.2,204.6 L218.2,204.6 L221.1,206.5 L224.0,207.5 L226.9,207.9 L229.8,207.1 L232.7,206.5 L235.7,206.5 L238.6,207.5 L241.5,208.5 L244.4,207.1 L247.3,206.5 L250.3,207.5 L253.2,207.1 L256.1,206.0 L259.0,205.2 L261.9,205.6 L264.8,206.0 L265.9,205.6 L269.8,204.6 L273.7,204.0 L277.6,203.6 L281.5,203.6 L285.3,203.2 L289.2,202.1 L293.1,201.3 L297.0,201.7 L300.9,202.6 L304.8,204.0 L308.7,205.6 L312.6,205.2 L316.5,204.6 L320.4,204.0 L324.3,204.6 L328.1,206.5 L332.0,207.9 L335.9,207.5 L339.8,207.1" stroke="#111" stroke-width="0.9" fill="none" stroke-dasharray="1.7,1.6" stroke-linejoin="round"/>
<path d="M191.5,220.2 L192.2,219.4 L192.9,219.2 L193.5,219.1 L194.2,220.3 L194.8,220.2 L195.5,219.7 L196.1,219.2 L196.8,219.2 L197.4,220.0 L198.1,219.3 L198.7,220.2 L199.3,220.1 L200.0,219.3 L200.6,219.2 L201.3,219.2 L201.9,219.6 L202.6,220.2 L203.2,220.2 L203.9,220.9 L204.5,221.1 L205.2,221.8 L205.8,221.7 L206.5,222.1 L207.1,222.1 L207.8,222.5 L208.4,223.1 L209.1,222.7 L209.7,222.0 L210.4,222.1 L211.0,222.0 L211.7,221.0 L212.3,221.1 L213.0,220.6 L213.6,220.2 L214.3,219.6 L214.9,219.7 L215.6,219.7 L216.2,220.2 L216.9,220.4 L217.5,219.8 L218.2,219.6 L218.8,219.8 L219.5,219.0 L220.1,219.2 L220.7,219.4 L221.4,219.4 L222.0,218.8 L222.7,219.0 L223.3,219.9 L224.0,220.2 L224.6,221.2 L225.3,221.9 L225.9,222.1 L226.6,222.7 L227.2,223.1 L227.9,223.5 L228.5,223.6 L229.2,223.1 L229.8,223.1 L230.5,222.3 L231.1,222.1 L231.8,222.1 L232.4,221.1 L233.1,220.8 L233.7,220.7 L234.4,220.7 L235.0,220.7 L235.7,220.2 L236.3,220.7 L237.0,220.9 L237.6,222.1 L238.3,221.4 L238.9,221.1 L239.6,221.1 L240.2,221.7 L240.9,221.3 L241.5,222.1 L242.2,222.3 L242.8,223.2 L243.4,223.1 L244.1,223.1 L244.7,222.8 L245.4,222.7 L246.0,222.0 L246.7,222.5 L247.3,222.1 L248.0,222.1 L248.6,223.2 L249.3,223.1 L249.9,223.2 L250.6,223.3 L251.2,223.5 L251.9,223.6 L252.5,222.8 L253.2,223.1 L253.8,222.8 L254.5,222.2 L255.1,222.1 L255.8,221.3 L256.4,221.1 L257.1,221.1 L257.7,221.1 L258.4,220.6 L259.0,219.6 L259.7,219.3 L260.3,219.0 L261.0,219.2 L261.6,219.8 L262.3,219.5 L262.9,220.2 L263.6,220.7 L264.2,220.3 L264.8,221.1 L265.5,220.9 L266.1,221.4 L266.8,222.1 L267.8,222.7 L268.5,221.7 L269.1,221.9 L269.8,221.1 L270.4,221.7 L271.1,221.0 L271.7,221.5 L272.4,221.1 L273.0,221.2 L273.7,220.7 L274.3,221.0 L275.0,221.4 L275.6,221.5 L276.3,222.4 L276.9,221.8 L277.6,222.7 L278.2,222.6 L278.9,222.1 L279.5,221.5 L280.2,221.3 L280.8,221.2 L281.5,221.1 L282.1,221.4 L282.8,221.1 L283.4,221.5 L284.0,221.5 L284.7,220.7 L285.3,220.7 L286.0,221.1 L286.6,221.5 L287.3,221.1 L287.9,220.8 L288.6,220.6 L289.2,220.2 L289.9,219.6 L290.5,219.6 L291.2,219.6 L292.0,220.3 L292.7,222.1 L293.4,222.8 L294.0,222.7 L294.7,223.5 L295.3,223.8 L296.0,223.8 L296.6,224.0 L297.3,224.5 L297.9,224.5 L298.6,224.6 L299.2,224.4 L299.9,224.2 L300.5,224.0 L301.2,223.9 L301.8,225.2 L302.5,225.0 L303.1,224.5 L303.8,224.5 L304.4,224.6 L305.1,224.3 L305.7,224.4 L306.4,224.0 L307.0,224.6 L307.7,225.2 L308.3,225.0 L309.0,225.4 L309.6,226.2 L310.2,227.0 L310.9,227.4 L311.6,227.9 L312.3,227.0 L313.0,225.0 L313.8,223.7 L314.5,223.1 L315.3,223.1 L316.1,224.0 L316.7,224.4 L317.4,225.4 L318.0,226.0 L318.7,226.5 L319.3,227.2 L320.0,227.9 L320.6,227.5 L321.3,226.9 L321.9,226.0 L322.6,226.0 L323.2,225.7 L323.9,226.0 L324.5,226.1 L325.2,226.2 L325.8,226.6 L326.5,226.7 L327.1,226.0 L327.8,226.2 L328.4,226.6 L329.1,226.5 L329.7,226.0 L330.4,226.5 L331.0,225.8 L331.6,226.0 L332.3,225.2 L332.9,225.2 L333.6,225.0 L334.2,225.7 L334.9,225.3 L335.5,226.0 L336.2,226.4 L336.8,226.5 L337.5,227.4 L338.3,227.7 L339.0,228.1 L339.8,228.5" stroke="#0000ff" stroke-width="1.00" fill="none" stroke-linejoin="round"/>
</g>
<path d="M191.40,257.80 v-1.40 M191.40,193.80 v1.40 M216.22,257.80 v-1.40 M216.22,193.80 v1.40 M241.03,257.80 v-1.40 M241.03,193.80 v1.40 M265.85,257.80 v-1.40 M265.85,193.80 v1.40 M290.67,257.80 v-1.40 M290.67,193.80 v1.40 M315.48,257.80 v-1.40 M315.48,193.80 v1.40 M340.30,257.80 v-1.40 M340.30,193.80 v1.40 M191.40,257.80 h1.40 M340.30,257.80 h-1.40 M191.40,249.80 h1.40 M340.30,249.80 h-1.40 M191.40,241.80 h1.40 M340.30,241.80 h-1.40 M191.40,233.80 h1.40 M340.30,233.80 h-1.40 M191.40,225.80 h1.40 M340.30,225.80 h-1.40 M191.40,217.80 h1.40 M340.30,217.80 h-1.40 M191.40,209.80 h1.40 M340.30,209.80 h-1.40 M191.40,201.80 h1.40 M340.30,201.80 h-1.40 M191.40,193.80 h1.40 M340.30,193.80 h-1.40" stroke="#262626" stroke-width="0.6" fill="none"/>
<rect x="191.40" y="193.80" width="148.90" height="64.00" fill="none" stroke="#555" stroke-width="1.3"/>
<rect x="272.10" y="192.60" width="66.20" height="8.00" fill="#fff" stroke="#3a3a3a" stroke-width="1.0"/>
<line x1="273.12" y1="196.60" x2="281.75" y2="196.60" stroke="#3030ff" stroke-width="0.70"/>
<text transform="translate(282.35,196.60) scale(0.800,1)" font-size="6.90" dy="0.36em">ASR</text>
<line x1="295.05" y1="196.60" x2="304.49" y2="196.60" stroke="#111" stroke-width="0.80" stroke-dasharray="2.0,1.55"/>
<text transform="translate(304.79,196.60) scale(0.800,1)" font-size="6.90" dy="0.36em">AS</text>
<line x1="314.54" y1="196.60" x2="323.07" y2="196.60" stroke="#ff30ff" stroke-width="0.70"/>
<text transform="translate(323.88,196.60) scale(0.800,1)" font-size="6.90" dy="0.36em">W+G</text>
<rect x="191.40" y="262.60" width="148.90" height="64.40" fill="#fff"/>
<path d="M216.22,262.60 V327.00 M241.03,262.60 V327.00 M265.85,262.60 V327.00 M290.67,262.60 V327.00 M315.48,262.60 V327.00 M191.40,310.90 H340.30 M191.40,294.80 H340.30 M191.40,278.70 H340.30" stroke="#dcdcdc" stroke-width="0.8" fill="none"/>
<text transform="translate(188.60,327.00) scale(0.860,1)" text-anchor="end" font-size="6.80" dy="0.46em">-10</text>
<text transform="translate(188.60,310.90) scale(0.860,1)" text-anchor="end" font-size="6.80" dy="0.46em">-5</text>
<text transform="translate(188.60,294.80) scale(0.860,1)" text-anchor="end" font-size="6.80" dy="0.46em">0</text>
<text transform="translate(188.60,278.70) scale(0.860,1)" text-anchor="end" font-size="6.80" dy="0.46em">5</text>
<text transform="translate(188.60,262.60) scale(0.860,1)" text-anchor="end" font-size="6.80" dy="0.46em">10</text>
<text transform="translate(191.40,335.30) scale(0.860,1)" text-anchor="middle" font-size="6.80">0</text>
<text transform="translate(216.22,335.30) scale(0.860,1)" text-anchor="middle" font-size="6.80">0.5</text>
<text transform="translate(241.03,335.30) scale(0.860,1)" text-anchor="middle" font-size="6.80">1</text>
<text transform="translate(265.85,335.30) scale(0.860,1)" text-anchor="middle" font-size="6.80">1.5</text>
<text transform="translate(290.67,335.30) scale(0.860,1)" text-anchor="middle" font-size="6.80">2</text>
<text transform="translate(315.48,335.30) scale(0.860,1)" text-anchor="middle" font-size="6.80">2.5</text>
<text transform="translate(340.30,335.30) scale(0.860,1)" text-anchor="middle" font-size="6.80">3</text>
<g clip-path="url(#cfb)">
<path stroke-width="0.60" d="M191.5,318.3 L192.7,318.4 L194.0,318.6 L195.2,318.8 L196.5,318.5 L197.7,318.7 L199.2,318.5 L200.6,318.8 L202.1,318.6 L203.6,318.7 L204.9,318.6 L206.2,318.4 L207.5,317.9 L208.8,317.5 L210.0,317.5 L211.3,317.3 L212.6,317.3 L213.9,317.6 L215.2,317.9 L216.5,318.4 L217.8,318.3 L219.1,318.7 L220.4,318.6 L221.7,318.4 L223.0,318.3 L224.3,318.2 L225.6,318.1 L226.9,318.3 L228.2,318.5 L229.5,318.6 L230.8,318.4 L232.1,318.7 L233.4,318.9 L234.7,318.7 L236.0,318.5 L237.3,318.7 L238.6,318.3 L239.9,318.3 L241.2,318.3 L242.5,318.3 L243.8,318.3 L245.1,318.4 L246.4,318.2 L247.7,318.2 L249.0,318.5 L250.3,318.3 L251.7,318.0 L253.2,317.9 L254.6,317.7 L256.1,317.3 L257.3,317.8 L258.5,317.7 L259.7,317.9 L261.0,318.3 L262.0,317.3 L263.5,317.5 L264.9,317.2 L266.4,317.3 L267.8,317.3 L269.3,317.2 L270.8,317.6 L272.2,317.3 L273.7,317.3 L275.1,317.4 L276.6,318.1 L278.1,317.8 L279.5,318.3 L281.0,317.9 L282.4,317.9 L283.9,317.5 L285.3,317.3 L286.8,317.5 L288.3,317.6 L289.7,317.4 L291.2,317.3 L292.6,317.2 L294.1,317.4 L295.6,317.1 L297.0,316.9 L298.5,317.2 L299.9,317.2 L301.4,317.4 L302.9,317.3 L304.3,317.6 L305.8,317.1 L307.2,317.1 L308.7,317.3 L310.2,317.0 L311.6,317.0 L313.1,316.9 L314.5,316.9 L316.0,317.0 L317.4,317.1 L318.9,317.3 L320.4,317.3 L321.8,317.3 L323.3,316.8 L324.7,316.9 L326.2,316.9 L327.5,317.7 L328.8,318.4 L330.1,318.7 L331.3,318.3 L332.5,318.4 L333.7,318.4 L335.0,318.3 L336.2,318.2 L337.4,317.9 L338.6,318.2 L339.8,317.9" stroke="#ff00ff" fill="none" stroke-linejoin="round"/>
<path d="M191.5,304.7 L194.8,305.7 L198.7,306.2 L202.6,306.6 L206.5,307.0 L210.4,306.2 L214.3,306.2 L217.2,305.7 L220.1,303.1 L223.0,301.8 L225.9,300.8 L228.9,302.4 L231.8,303.7 L234.7,302.7 L237.6,302.4 L240.5,303.1 L244.4,303.7 L248.3,303.7 L252.2,304.7 L256.1,306.2 L260.0,306.6 L263.9,307.0 L265.9,307.0 L269.8,306.6 L273.7,307.0 L277.6,307.6 L281.5,307.6 L285.3,307.6 L289.2,307.6 L293.1,309.0 L297.0,309.6 L300.9,309.0 L304.8,307.6 L308.7,306.6 L312.6,306.6 L316.5,307.0 L320.4,307.6 L324.3,307.6 L328.1,308.2 L332.0,309.6 L335.9,309.6 L339.8,308.2" stroke="#111" stroke-width="0.9" fill="none" stroke-dasharray="1.7,1.6" stroke-linejoin="round"/>
<path d="M191.5,277.5 L192.2,277.1 L192.8,277.4 L193.4,277.8 L194.1,277.8 L194.7,276.9 L195.4,277.1 L196.0,277.6 L196.7,277.1 L197.3,277.5 L198.0,276.4 L198.6,276.4 L199.3,275.9 L199.9,275.3 L200.6,274.8 L201.2,275.1 L201.9,275.5 L202.5,276.4 L203.2,277.1 L203.8,277.4 L204.5,278.8 L205.1,279.0 L205.8,278.1 L206.4,277.9 L207.1,277.1 L207.7,275.7 L208.4,274.3 L209.0,273.6 L209.7,273.8 L210.3,274.4 L211.0,274.5 L211.6,275.4 L212.3,276.4 L212.9,277.1 L213.6,276.1 L214.2,275.6 L214.8,275.5 L215.5,274.8 L216.1,274.9 L216.8,274.5 L217.4,274.0 L218.1,272.5 L218.7,271.6 L219.4,271.6 L220.0,270.5 L220.7,270.6 L221.3,271.0 L222.0,272.1 L222.6,272.6 L223.3,273.7 L223.9,274.6 L224.6,275.1 L225.2,274.2 L225.9,274.1 L226.5,273.6 L227.2,273.6 L227.8,274.5 L228.5,274.5 L229.1,273.7 L229.8,272.6 L230.5,273.6 L231.1,274.6 L231.8,275.1 L232.4,276.1 L233.1,276.0 L233.7,276.5 L234.4,276.1 L235.0,274.3 L235.7,273.6 L236.3,273.7 L237.0,272.5 L237.6,272.6 L238.3,273.5 L238.9,274.3 L239.6,274.5 L240.2,275.4 L240.9,276.1 L241.5,277.1 L242.2,277.2 L242.8,277.0 L243.4,276.5 L244.1,276.7 L244.7,276.3 L245.4,276.5 L246.0,276.0 L246.7,275.0 L247.3,275.1 L248.0,275.0 L248.6,274.5 L249.3,274.5 L249.9,275.4 L250.6,275.3 L251.2,276.5 L251.9,276.7 L252.5,276.7 L253.2,277.5 L253.8,277.0 L254.5,277.3 L255.1,276.5 L255.8,276.6 L256.4,276.3 L257.1,275.9 L257.7,276.6 L258.4,277.1 L259.0,278.4 L259.7,278.8 L260.3,280.2 L261.0,281.0 L261.6,281.1 L262.3,280.4 L262.9,279.8 L263.6,279.0 L264.2,279.4 L264.8,278.4 L265.9,279.4 L266.5,280.1 L267.2,280.8 L267.8,282.3 L268.5,281.7 L269.1,281.0 L269.8,280.4 L270.4,278.9 L271.1,278.9 L271.7,277.5 L272.4,276.9 L273.0,276.7 L273.7,276.5 L274.3,276.3 L275.0,276.6 L275.6,277.5 L276.3,278.6 L276.9,279.3 L277.6,279.4 L278.2,279.2 L278.9,278.3 L279.5,278.4 L280.2,277.7 L280.8,277.4 L281.5,277.5 L282.1,276.6 L282.8,277.1 L283.4,276.5 L284.2,275.9 L285.0,275.5 L285.6,276.0 L286.3,277.5 L287.0,278.5 L287.6,280.0 L288.3,281.3 L288.9,280.1 L289.6,278.8 L290.2,277.5 L290.9,276.7 L291.5,277.1 L292.2,276.5 L292.8,276.9 L293.5,278.1 L294.1,279.0 L294.7,278.7 L295.4,277.5 L296.0,277.5 L296.7,277.3 L297.3,278.6 L298.0,278.4 L298.6,279.0 L299.3,278.7 L299.9,279.4 L300.6,279.9 L301.2,279.6 L301.9,280.4 L302.5,280.1 L303.2,278.6 L303.8,278.4 L304.5,277.4 L305.1,276.8 L305.8,276.5 L306.4,277.3 L307.1,278.2 L307.7,278.4 L308.4,279.0 L309.0,280.4 L309.7,281.0 L310.3,280.3 L311.0,279.9 L311.6,279.4 L312.3,278.6 L312.9,277.2 L313.6,276.5 L314.2,276.1 L314.9,275.0 L315.5,274.5 L316.2,274.8 L316.8,276.0 L317.4,276.5 L318.1,277.1 L318.7,277.3 L319.4,278.4 L320.0,279.2 L320.7,279.4 L321.3,279.4 L322.0,279.0 L322.6,279.1 L323.3,278.4 L323.9,279.0 L324.6,278.6 L325.2,279.4 L325.9,278.3 L326.5,278.1 L327.2,277.5 L327.8,277.0 L328.5,277.0 L329.1,276.5 L329.8,276.4 L330.4,276.7 L331.1,277.5 L331.7,277.3 L332.4,278.0 L333.0,277.5 L333.7,277.3 L334.3,278.6 L335.0,278.4 L335.6,278.7 L336.3,278.7 L336.9,279.0 L337.6,279.3 L338.2,280.5 L338.8,281.3 L339.5,281.8 L340.2,282.3" stroke="#0000ff" stroke-width="1.00" fill="none" stroke-linejoin="round"/>
</g>
<path d="M191.40,327.00 v-1.40 M191.40,262.60 v1.40 M216.22,327.00 v-1.40 M216.22,262.60 v1.40 M241.03,327.00 v-1.40 M241.03,262.60 v1.40 M265.85,327.00 v-1.40 M265.85,262.60 v1.40 M290.67,327.00 v-1.40 M290.67,262.60 v1.40 M315.48,327.00 v-1.40 M315.48,262.60 v1.40 M340.30,327.00 v-1.40 M340.30,262.60 v1.40 M191.40,327.00 h1.40 M340.30,327.00 h-1.40 M191.40,310.90 h1.40 M340.30,310.90 h-1.40 M191.40,294.80 h1.40 M340.30,294.80 h-1.40 M191.40,278.70 h1.40 M340.30,278.70 h-1.40 M191.40,262.60 h1.40 M340.30,262.60 h-1.40" stroke="#262626" stroke-width="0.6" fill="none"/>
<rect x="191.40" y="262.60" width="148.90" height="64.40" fill="none" stroke="#555" stroke-width="1.3"/>
<g transform="translate(177.20,225.85) rotate(-90)">
<text x="-13.30" y="2.13" font-size="8.36" font-style="italic">V</text>
<text x="-8.70" y="3.83" font-size="5.41">W</text>
<text x="-2.70" y="2.13" font-size="8.20" textLength="16.00" lengthAdjust="spacingAndGlyphs">[m/s]</text>
</g>
<g transform="translate(175.20,295.00) rotate(-90)">
<text x="-8.60" y="2.08" font-size="8.00" font-style="italic">ψ</text>
<text x="-4.00" y="3.78" font-size="5.28">W</text>
<text x="2.40" y="2.08" font-size="8.00" textLength="6.20" lengthAdjust="spacingAndGlyphs">[°]</text>
</g>
<text class="xl" x="253.30" y="342.70" font-size="7.60" textLength="16.0" lengthAdjust="spacingAndGlyphs">Time</text>
<text class="xl" x="270.80" y="342.70" font-size="8.4">[</text>
<text class="xl" x="273.00" y="342.70" font-size="7.60">s</text>
<text class="xl" x="275.80" y="342.70" font-size="8.4">]</text>
<text style="fill:#262626;stroke:none;text-rendering:optimizeLegibility" x="221.00" y="353.50" font-size="10.60" dy="0.33em" textLength="71.90" lengthAdjust="spacingAndGlyphs">(f) P1R1V28.6</text>
<rect x="363.30" y="193.80" width="148.40" height="64.00" fill="#fff"/>
<path d="M392.98,193.80 V257.80 M422.66,193.80 V257.80 M452.34,193.80 V257.80 M482.02,193.80 V257.80 M363.30,248.66 H511.70 M363.30,239.51 H511.70 M363.30,230.37 H511.70 M363.30,221.23 H511.70 M363.30,212.09 H511.70 M363.30,202.94 H511.70" stroke="#dcdcdc" stroke-width="0.8" fill="none"/>
<text transform="translate(360.50,257.80) scale(0.860,1)" text-anchor="end" font-size="6.80" dy="0.46em">18</text>
<text transform="translate(360.50,248.66) scale(0.860,1)" text-anchor="end" font-size="6.80" dy="0.46em">20</text>
<text transform="translate(360.50,239.51) scale(0.860,1)" text-anchor="end" font-size="6.80" dy="0.46em">22</text>
<text transform="translate(360.50,230.37) scale(0.860,1)" text-anchor="end" font-size="6.80" dy="0.46em">24</text>
<text transform="translate(360.50,221.23) scale(0.860,1)" text-anchor="end" font-size="6.80" dy="0.46em">26</text>
<text transform="translate(360.50,212.09) scale(0.860,1)" text-anchor="end" font-size="6.80" dy="0.46em">28</text>
<text transform="translate(360.50,202.94) scale(0.860,1)" text-anchor="end" font-size="6.80" dy="0.46em">30</text>
<text transform="translate(360.50,193.80) scale(0.860,1)" text-anchor="end" font-size="6.80" dy="0.46em">32</text>
<g clip-path="url(#cgt)">
<path stroke-width="0.70" d="M363.3,249.3 L364.6,247.9 L365.8,246.4 L367.3,245.5 L368.8,244.1 L370.2,243.3 L371.7,242.5 L373.1,241.8 L374.6,241.0 L376.1,240.0 L377.5,239.6 L378.8,239.2 L380.1,239.2 L381.4,238.6 L382.7,238.4 L384.0,238.7 L385.3,238.2 L386.6,238.2 L387.9,238.1 L389.2,237.7 L390.5,237.5 L391.8,237.2 L393.1,237.1 L394.4,236.6 L395.7,236.5 L397.0,236.3 L398.3,235.9 L399.6,235.3 L400.9,235.1 L402.2,234.9 L403.5,234.5 L404.7,234.4 L406.0,234.0 L407.3,233.5 L408.6,233.2 L409.9,232.7 L411.2,232.6 L412.5,232.4 L413.8,232.4 L415.1,231.7 L416.4,231.8 L417.7,231.6 L419.0,231.5 L420.3,231.2 L421.6,230.8 L422.9,230.9 L424.2,230.9 L425.5,230.7 L426.8,230.8 L428.1,230.5 L429.4,230.4 L430.7,230.5 L432.0,230.1 L433.3,230.1 L434.6,230.0 L435.9,229.7 L437.2,229.9 L438.5,229.8 L439.8,229.9 L441.8,230.5 L443.1,230.4 L444.4,230.7 L445.7,230.9 L447.0,230.8 L448.3,230.9 L449.6,231.2 L450.9,231.8 L452.2,232.2 L453.5,232.4 L454.8,232.9 L456.0,232.8 L457.3,233.2 L458.6,233.1 L459.9,233.3 L461.2,233.6 L462.5,233.8 L463.8,233.6 L465.1,233.6 L466.4,233.4 L467.7,233.0 L469.0,233.2 L470.3,233.3 L471.6,233.4 L472.9,233.8 L474.2,233.8 L475.5,233.9 L476.8,234.0 L478.1,233.7 L479.4,234.1 L480.7,233.8 L482.0,234.1 L483.3,233.9 L484.6,234.4 L485.9,234.5 L487.2,234.3 L488.5,234.4 L489.8,234.6 L491.1,235.1 L492.4,235.1 L493.7,235.6 L495.0,235.7 L496.3,235.7 L497.6,235.8 L498.9,235.6 L500.1,235.1 L501.4,234.8 L502.7,234.6 L504.0,234.4 L505.3,234.5 L506.6,234.2 L507.9,234.4 L509.2,234.1 L510.5,234.3 L511.7,234.4" stroke="#ff00ff" fill="none" stroke-linejoin="round"/>
<path d="M363.3,215.3 L365.8,208.5 L368.8,206.0 L371.7,207.5 L374.6,208.5 L376.5,209.1 L378.5,206.5 L381.4,203.6 L385.3,203.2 L389.2,203.2 L393.1,203.2 L397.0,204.0 L399.9,203.6 L401.8,202.6 L404.7,203.2 L408.6,203.6 L412.5,203.6 L416.4,204.6 L420.3,203.6 L424.2,202.6 L428.1,204.0 L432.0,205.2 L435.9,206.0 L438.8,206.5 L439.8,204.6 L443.7,206.5 L447.6,207.1 L450.5,204.6 L452.5,202.6 L455.4,202.6 L458.3,204.6 L461.2,206.5 L464.2,208.5 L467.1,209.5 L470.0,209.8 L472.9,209.1 L475.8,209.5 L478.7,208.5 L482.6,207.9 L485.6,208.5 L488.5,209.5 L491.4,211.0 L494.3,211.8 L497.2,212.4 L501.1,214.3 L504.0,215.3 L507.9,216.3 L511.7,218.2" stroke="#111" stroke-width="0.9" fill="none" stroke-dasharray="1.7,1.6" stroke-linejoin="round"/>
<path d="M363.3,220.2 L364.1,219.4 L364.9,218.2 L365.5,217.7 L366.2,217.0 L366.8,217.2 L367.5,217.4 L368.1,216.5 L368.8,216.8 L369.4,217.0 L370.1,217.6 L370.7,218.2 L371.3,219.1 L372.0,218.3 L372.6,219.2 L373.3,218.5 L373.9,219.3 L374.6,218.8 L375.2,218.2 L375.9,217.6 L376.5,217.6 L377.2,217.4 L377.8,217.5 L378.5,218.2 L379.1,217.7 L379.8,218.1 L380.4,217.2 L381.1,217.7 L381.7,218.0 L382.4,217.6 L383.0,216.9 L383.7,217.1 L384.3,216.8 L385.0,216.6 L385.6,217.2 L386.3,217.6 L386.9,217.7 L387.6,217.6 L388.2,217.2 L388.9,217.2 L389.5,217.3 L390.2,217.6 L390.8,217.7 L391.5,216.5 L392.1,216.8 L392.7,217.2 L393.4,216.9 L394.0,216.8 L394.7,216.8 L395.3,216.9 L396.0,216.3 L396.6,215.6 L397.3,215.7 L397.9,215.7 L398.6,215.4 L399.2,214.9 L399.9,215.3 L400.5,215.8 L401.2,214.8 L401.8,215.3 L402.5,215.1 L403.1,215.2 L403.8,214.9 L404.4,215.3 L405.1,215.7 L405.7,215.7 L406.4,215.2 L407.0,214.8 L407.7,214.9 L408.3,214.6 L409.0,215.4 L409.6,215.3 L410.3,215.7 L410.9,215.4 L411.6,214.9 L412.2,215.3 L412.9,214.6 L413.5,215.3 L414.2,215.4 L414.8,214.8 L415.4,214.3 L416.1,214.3 L416.7,214.4 L417.4,213.7 L418.0,214.5 L418.7,213.9 L419.3,214.3 L420.0,214.1 L420.6,213.5 L421.3,213.7 L421.9,213.9 L422.6,214.0 L423.2,213.3 L423.9,212.9 L424.5,213.6 L425.2,213.0 L425.8,213.0 L426.5,212.7 L427.1,212.4 L427.8,212.7 L428.4,213.2 L429.1,213.7 L429.7,213.7 L430.4,213.5 L431.0,213.3 L431.7,213.8 L432.3,214.8 L433.0,214.9 L433.6,214.8 L434.3,215.3 L434.9,215.7 L435.6,215.5 L436.2,215.5 L436.8,214.9 L437.5,214.6 L438.1,215.1 L438.8,214.9 L439.8,214.9 L440.5,214.1 L441.1,214.1 L441.8,214.3 L442.4,214.2 L443.1,214.7 L443.7,214.9 L444.4,215.2 L445.0,216.4 L445.7,217.2 L446.3,216.8 L447.0,216.7 L447.6,215.7 L448.3,214.4 L448.9,213.6 L449.6,213.3 L450.2,212.9 L450.9,212.8 L451.5,212.4 L452.2,212.1 L452.8,212.3 L453.5,211.8 L454.1,212.3 L454.8,212.5 L455.4,213.3 L456.0,214.5 L456.7,214.8 L457.3,215.3 L458.0,215.4 L458.6,217.1 L459.3,217.2 L459.9,216.6 L460.6,215.5 L461.2,214.9 L462.0,214.4 L462.8,213.3 L463.5,213.8 L464.2,215.3 L464.8,216.6 L465.5,217.2 L466.3,216.8 L467.1,215.7 L467.7,215.2 L468.4,215.5 L469.0,215.3 L469.7,216.2 L470.3,216.8 L471.0,217.2 L471.6,216.7 L472.3,216.8 L472.9,216.3 L473.6,215.5 L474.2,215.4 L474.9,214.3 L475.5,215.5 L476.2,215.5 L476.8,216.3 L477.5,216.8 L478.1,216.6 L478.7,217.2 L479.4,216.9 L480.0,217.7 L480.7,217.2 L481.3,217.5 L482.0,216.8 L482.6,216.8 L483.3,216.3 L483.9,216.1 L484.6,216.3 L485.2,216.0 L485.9,217.1 L486.5,217.2 L487.2,217.8 L487.8,218.1 L488.5,218.2 L489.1,218.4 L489.8,218.7 L490.4,219.2 L491.1,219.7 L491.7,219.8 L492.4,220.2 L493.0,220.4 L493.7,220.2 L494.3,219.6 L495.0,220.0 L495.6,220.4 L496.3,220.7 L496.9,220.8 L497.6,221.5 L498.2,221.5 L498.9,221.1 L499.5,221.4 L500.1,222.1 L500.8,221.6 L501.4,222.2 L502.1,221.5 L502.7,221.5 L503.4,220.4 L504.0,220.7 L504.7,220.8 L505.3,221.5 L506.0,221.1 L506.8,220.7 L507.5,220.7 L508.2,221.5 L508.9,223.1 L509.6,223.2 L510.2,223.3 L510.8,223.5 L511.7,223.1" stroke="#0000ff" stroke-width="1.25" fill="none" stroke-linejoin="round"/>
</g>
<path d="M363.30,257.80 v-1.40 M363.30,193.80 v1.40 M392.98,257.80 v-1.40 M392.98,193.80 v1.40 M422.66,257.80 v-1.40 M422.66,193.80 v1.40 M452.34,257.80 v-1.40 M452.34,193.80 v1.40 M482.02,257.80 v-1.40 M482.02,193.80 v1.40 M511.70,257.80 v-1.40 M511.70,193.80 v1.40 M363.30,257.80 h1.40 M511.70,257.80 h-1.40 M363.30,248.66 h1.40 M511.70,248.66 h-1.40 M363.30,239.51 h1.40 M511.70,239.51 h-1.40 M363.30,230.37 h1.40 M511.70,230.37 h-1.40 M363.30,221.23 h1.40 M511.70,221.23 h-1.40 M363.30,212.09 h1.40 M511.70,212.09 h-1.40 M363.30,202.94 h1.40 M511.70,202.94 h-1.40 M363.30,193.80 h1.40 M511.70,193.80 h-1.40" stroke="#262626" stroke-width="0.6" fill="none"/>
<rect x="363.30" y="193.80" width="148.40" height="64.00" fill="none" stroke="#555" stroke-width="1.3"/>
<rect x="443.70" y="193.60" width="66.00" height="7.40" fill="#fff" stroke="#3a3a3a" stroke-width="1.0"/>
<line x1="444.71" y1="197.30" x2="453.32" y2="197.30" stroke="#3030ff" stroke-width="0.70"/>
<text transform="translate(453.92,197.30) scale(0.800,1)" font-size="6.90" dy="0.36em">ASR</text>
<line x1="466.58" y1="197.30" x2="475.99" y2="197.30" stroke="#111" stroke-width="0.80" stroke-dasharray="2.0,1.55"/>
<text transform="translate(476.30,197.30) scale(0.800,1)" font-size="6.90" dy="0.36em">AS</text>
<line x1="486.01" y1="197.30" x2="494.52" y2="197.30" stroke="#ff30ff" stroke-width="0.70"/>
<text transform="translate(495.33,197.30) scale(0.800,1)" font-size="6.90" dy="0.36em">W+G</text>
<rect x="363.30" y="262.60" width="148.40" height="64.60" fill="#fff"/>
<path d="M392.98,262.60 V327.20 M422.66,262.60 V327.20 M452.34,262.60 V327.20 M482.02,262.60 V327.20 M363.30,305.67 H511.70 M363.30,284.13 H511.70" stroke="#dcdcdc" stroke-width="0.8" fill="none"/>
<text transform="translate(360.50,327.20) scale(0.860,1)" text-anchor="end" font-size="6.80" dy="0.46em">-30</text>
<text transform="translate(360.50,305.67) scale(0.860,1)" text-anchor="end" font-size="6.80" dy="0.46em">-15</text>
<text transform="translate(360.50,284.13) scale(0.860,1)" text-anchor="end" font-size="6.80" dy="0.46em">0</text>
<text transform="translate(360.50,262.60) scale(0.860,1)" text-anchor="end" font-size="6.80" dy="0.46em">15</text>
<text transform="translate(363.30,335.50) scale(0.860,1)" text-anchor="middle" font-size="6.80">0</text>
<text transform="translate(392.98,335.50) scale(0.860,1)" text-anchor="middle" font-size="6.80">1</text>
<text transform="translate(422.66,335.50) scale(0.860,1)" text-anchor="middle" font-size="6.80">2</text>
<text transform="translate(452.34,335.50) scale(0.860,1)" text-anchor="middle" font-size="6.80">3</text>
<text transform="translate(482.02,335.50) scale(0.860,1)" text-anchor="middle" font-size="6.80">4</text>
<text transform="translate(511.70,335.50) scale(0.860,1)" text-anchor="middle" font-size="6.80">5</text>
<g clip-path="url(#cgb)">
<path stroke-width="0.70" d="M363.3,314.8 L364.8,314.7 L366.3,315.0 L367.8,314.8 L369.1,314.4 L370.4,314.7 L371.7,314.4 L373.0,314.1 L374.3,314.2 L375.6,314.0 L376.9,314.4 L378.2,314.1 L379.5,314.4 L380.8,314.4 L382.0,314.4 L383.3,314.0 L384.6,313.9 L385.9,313.5 L387.2,313.4 L388.5,313.1 L389.8,313.4 L391.1,312.9 L392.4,312.6 L393.7,312.8 L395.0,312.5 L396.3,312.4 L397.6,312.0 L398.9,312.1 L400.2,311.8 L401.5,311.6 L402.8,311.5 L404.1,311.4 L405.4,310.9 L406.7,310.9 L408.0,310.7 L409.3,310.4 L410.6,310.1 L411.9,310.2 L413.2,310.9 L414.5,310.9 L415.8,310.8 L417.1,310.9 L418.4,310.5 L419.7,310.8 L421.0,310.7 L422.3,310.5 L423.6,310.5 L424.9,310.4 L426.1,310.1 L427.4,309.9 L428.7,310.3 L430.0,310.1 L431.3,310.2 L432.6,309.8 L433.9,309.6 L435.4,309.5 L436.8,309.5 L438.3,309.2 L439.8,309.0 L441.8,309.0 L443.1,309.2 L444.4,309.2 L445.7,309.0 L447.0,308.7 L448.3,309.1 L449.6,309.0 L450.9,308.5 L452.2,308.1 L453.5,307.6 L454.8,307.2 L456.0,307.2 L457.3,306.6 L458.6,306.4 L459.9,306.4 L461.2,306.2 L462.5,306.1 L463.8,305.8 L465.1,305.7 L466.4,305.4 L467.7,305.4 L469.0,305.7 L470.3,305.7 L471.6,305.8 L472.9,305.7 L474.2,305.4 L475.5,305.8 L476.8,305.7 L478.1,305.3 L479.4,305.3 L480.7,305.1 L482.0,304.9 L483.3,304.6 L484.6,304.7 L485.9,304.8 L487.2,304.5 L488.5,304.3 L489.8,303.6 L491.1,303.5 L492.4,303.1 L493.7,302.7 L495.0,302.8 L496.3,302.4 L497.6,302.3 L498.9,301.9 L500.1,301.8 L501.4,301.4 L502.7,300.9 L504.0,300.8 L505.3,300.8 L506.6,300.0 L507.9,299.8 L509.2,299.5 L510.5,299.3 L511.7,298.9" stroke="#ff00ff" fill="none" stroke-linejoin="round"/>
<path d="M363.3,296.9 L366.8,296.5 L370.7,295.9 L374.6,295.0 L377.5,294.6 L380.4,295.9 L383.3,297.9 L387.2,298.9 L391.1,299.2 L395.0,297.9 L398.9,297.9 L402.8,298.5 L406.7,297.9 L410.6,297.3 L414.5,297.9 L418.4,297.9 L422.3,295.9 L426.1,295.4 L430.0,295.0 L433.9,294.6 L437.8,294.0 L439.8,293.0 L441.8,293.0 L445.7,294.0 L449.6,293.4 L453.5,294.0 L457.3,293.0 L461.2,292.0 L465.1,293.0 L469.0,292.6 L472.9,292.0 L476.8,291.5 L480.7,291.1 L484.6,291.5 L488.5,292.0 L492.4,292.6 L496.3,291.5 L500.1,289.1 L504.0,287.2 L507.9,285.2 L511.7,283.7" stroke="#111" stroke-width="0.9" fill="none" stroke-dasharray="1.7,1.6" stroke-linejoin="round"/>
<path d="M363.3,284.3 L364.1,283.7 L364.9,284.3 L365.5,283.4 L366.2,282.9 L367.0,281.0 L367.8,280.4 L368.6,280.8 L369.3,281.7 L370.0,282.8 L370.7,283.3 L371.4,284.0 L372.1,284.3 L372.8,283.5 L373.6,282.9 L374.4,282.9 L375.2,282.3 L375.9,282.7 L376.5,283.3 L377.2,284.5 L377.9,284.8 L378.7,285.2 L379.5,285.2 L380.2,284.3 L381.0,284.3 L381.7,284.8 L382.4,285.2 L383.1,286.0 L383.7,286.8 L384.5,287.0 L385.3,287.2 L385.9,286.5 L386.6,286.8 L387.2,286.2 L387.9,286.2 L388.5,286.6 L389.2,287.2 L389.8,286.7 L390.5,286.6 L391.1,286.8 L391.8,286.2 L392.4,286.7 L393.1,286.2 L393.7,286.6 L394.4,286.0 L395.0,286.8 L395.7,286.7 L396.3,285.9 L397.0,286.2 L397.6,286.2 L398.3,285.7 L398.9,285.6 L399.6,285.9 L400.2,286.3 L400.9,286.2 L401.5,286.7 L402.2,286.8 L402.8,286.8 L403.5,286.5 L404.1,286.3 L404.7,286.8 L405.4,287.0 L406.0,287.1 L406.7,287.2 L407.3,287.5 L408.0,287.4 L408.6,286.8 L409.3,285.8 L409.9,285.4 L410.6,284.8 L411.4,286.3 L412.1,287.2 L412.8,286.4 L413.4,286.4 L414.1,285.2 L414.7,285.0 L415.4,285.8 L416.0,286.2 L416.7,286.9 L417.3,287.4 L418.0,287.2 L418.6,286.5 L419.3,285.6 L419.9,285.2 L420.6,285.0 L421.2,284.4 L421.9,284.3 L422.5,284.7 L423.2,284.5 L423.8,284.8 L424.5,284.1 L425.1,284.2 L425.8,283.7 L426.4,284.2 L427.1,284.1 L427.7,284.3 L428.4,284.6 L429.0,284.7 L429.6,284.8 L430.3,284.5 L430.9,283.5 L431.6,283.7 L432.2,284.2 L432.9,285.4 L433.5,285.6 L434.2,284.9 L434.8,284.4 L435.5,283.3 L436.1,284.0 L436.8,283.0 L437.4,283.7 L438.2,283.5 L439.0,282.8 L439.8,282.3 L440.4,281.7 L441.1,282.0 L441.8,282.3 L442.4,282.8 L443.1,283.2 L443.7,283.7 L444.5,284.9 L445.3,285.2 L446.0,283.6 L446.6,282.3 L447.3,282.3 L447.9,281.6 L448.6,281.3 L449.2,282.2 L449.9,282.6 L450.5,282.3 L451.2,281.6 L451.8,282.1 L452.5,281.3 L453.1,281.2 L453.8,281.8 L454.4,282.3 L455.1,282.5 L455.7,281.6 L456.4,281.3 L457.0,280.4 L457.7,280.1 L458.3,280.4 L459.0,280.6 L459.6,280.2 L460.3,279.4 L460.9,279.6 L461.6,278.6 L462.2,278.4 L462.9,279.2 L463.6,280.4 L464.4,282.1 L465.1,283.3 L465.9,281.8 L466.7,281.3 L467.4,280.5 L468.0,279.4 L468.7,280.0 L469.3,281.0 L470.0,282.3 L470.6,282.3 L471.3,281.4 L471.9,281.3 L472.6,281.8 L473.2,281.3 L473.9,281.0 L474.5,281.2 L475.2,281.4 L475.8,281.3 L476.5,280.7 L477.1,281.2 L477.8,280.4 L478.4,279.5 L479.1,280.2 L479.7,279.4 L480.4,280.0 L481.0,280.6 L481.7,281.0 L482.3,280.8 L483.0,280.4 L483.6,280.4 L484.3,279.8 L484.9,279.8 L485.6,279.8 L486.2,279.8 L486.9,279.3 L487.5,279.4 L488.2,280.3 L488.8,280.7 L489.4,281.0 L490.1,280.5 L490.7,280.7 L491.4,281.3 L492.0,281.4 L492.7,280.7 L493.3,280.4 L494.0,279.5 L494.6,279.5 L495.3,279.0 L495.9,279.3 L496.6,279.8 L497.2,279.8 L497.9,279.3 L498.5,279.4 L499.2,278.4 L499.8,277.2 L500.5,277.6 L501.1,276.5 L501.8,276.2 L502.5,275.5 L503.3,276.3 L504.0,277.5 L504.8,276.5 L505.6,276.5 L506.2,275.4 L506.9,275.4 L507.5,274.5 L508.2,273.8 L508.9,272.6 L509.6,272.1 L510.3,271.6 L511.0,271.6 L511.7,272.6" stroke="#0000ff" stroke-width="1.25" fill="none" stroke-linejoin="round"/>
</g>
<path d="M363.30,327.20 v-1.40 M363.30,262.60 v1.40 M392.98,327.20 v-1.40 M392.98,262.60 v1.40 M422.66,327.20 v-1.40 M422.66,262.60 v1.40 M452.34,327.20 v-1.40 M452.34,262.60 v1.40 M482.02,327.20 v-1.40 M482.02,262.60 v1.40 M511.70,327.20 v-1.40 M511.70,262.60 v1.40 M363.30,327.20 h1.40 M511.70,327.20 h-1.40 M363.30,305.67 h1.40 M511.70,305.67 h-1.40 M363.30,284.13 h1.40 M511.70,284.13 h-1.40 M363.30,262.60 h1.40 M511.70,262.60 h-1.40" stroke="#262626" stroke-width="0.6" fill="none"/>
<rect x="363.30" y="262.60" width="148.40" height="64.60" fill="none" stroke="#555" stroke-width="1.3"/>
<g transform="translate(349.00,225.60) rotate(-90)">
<text x="-13.30" y="2.13" font-size="8.36" font-style="italic">V</text>
<text x="-8.70" y="3.83" font-size="5.41">W</text>
<text x="-2.70" y="2.13" font-size="8.20" textLength="16.00" lengthAdjust="spacingAndGlyphs">[m/s]</text>
</g>
<g transform="translate(347.00,294.70) rotate(-90)">
<text x="-8.60" y="2.08" font-size="8.00" font-style="italic">ψ</text>
<text x="-4.00" y="3.78" font-size="5.28">W</text>
<text x="2.40" y="2.08" font-size="8.00" textLength="6.20" lengthAdjust="spacingAndGlyphs">[°]</text>
</g>
<text class="xl" x="425.40" y="342.70" font-size="7.60" textLength="16.0" lengthAdjust="spacingAndGlyphs">Time</text>
<text class="xl" x="442.90" y="342.70" font-size="8.4">[</text>
<text class="xl" x="445.10" y="342.70" font-size="7.60">s</text>
<text class="xl" x="447.90" y="342.70" font-size="8.4">]</text>
<text style="fill:#262626;stroke:none;text-rendering:optimizeLegibility" x="391.00" y="353.50" font-size="10.60" dy="0.33em" textLength="74.40" lengthAdjust="spacingAndGlyphs">(g) P1R1V29.1</text></svg>
</body></html>
